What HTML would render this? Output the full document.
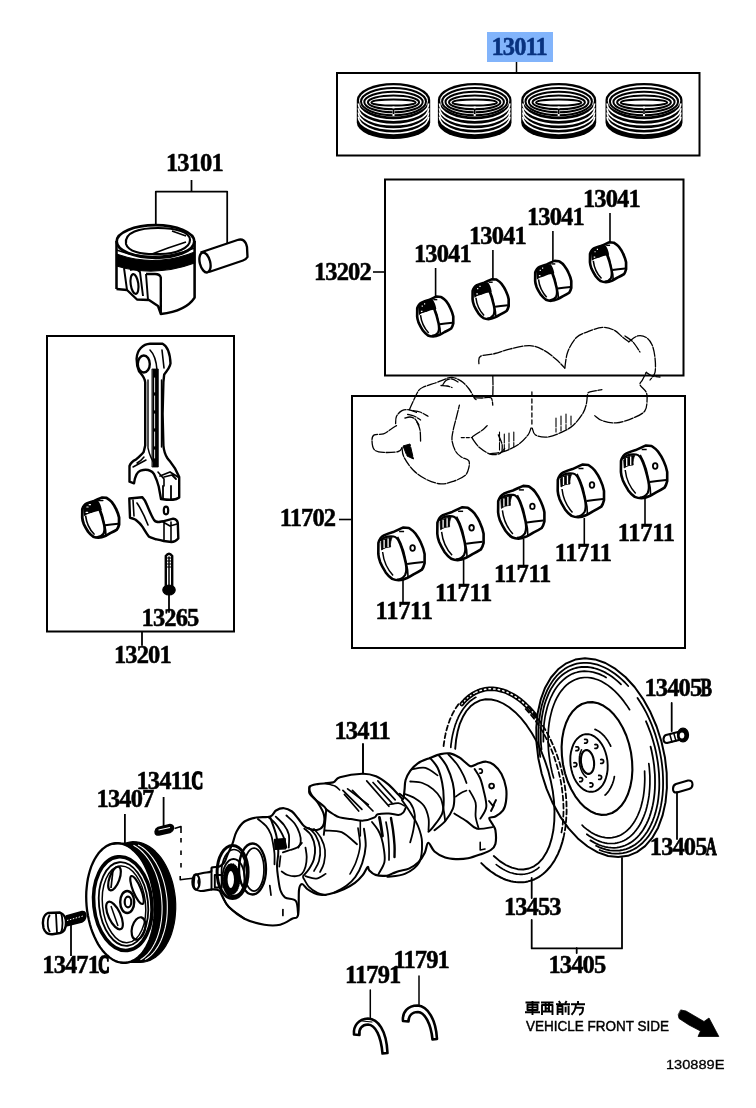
<!DOCTYPE html>
<html><head><meta charset="utf-8"><style>
html,body{margin:0;padding:0;background:#fff;overflow:hidden;width:756px;height:1108px;}
svg{display:block;will-change:transform;}
text{font-family:"Liberation Serif",serif;font-weight:bold;}
.sans{font-family:"Liberation Sans",sans-serif;}
</style></head><body>
<svg width="756" height="1108" viewBox="0 0 756 1108">
<rect width="756" height="1108" fill="#fff"/>

<g fill="none" stroke="#000" stroke-width="2">
<rect x="337" y="73" width="362.5" height="82.5" />
<rect x="385" y="179.5" width="298.5" height="196" />
<rect x="352" y="396" width="333" height="252" />
<rect x="47" y="336" width="187" height="295.5" />
</g>
<rect x="487" y="32" width="66" height="30" fill="#82b4fb"/>
<text x="491.5" y="55.0" font-size="24.5" letter-spacing="-0.9" fill="#08327f" stroke="#08327f" stroke-width="0.5">13011</text>
<text x="166.0" y="171.2" font-size="24.5" letter-spacing="-0.9" fill="#000" stroke="#000" stroke-width="0.5">13101</text>
<text x="314.0" y="279.6" font-size="24.5" letter-spacing="-0.9" fill="#000" stroke="#000" stroke-width="0.5">13202</text>
<text x="414.0" y="261.6" font-size="24.5" letter-spacing="-0.9" fill="#000" stroke="#000" stroke-width="0.5">13041</text>
<text x="469.0" y="243.6" font-size="24.5" letter-spacing="-0.9" fill="#000" stroke="#000" stroke-width="0.5">13041</text>
<text x="527.0" y="225.2" font-size="24.5" letter-spacing="-0.9" fill="#000" stroke="#000" stroke-width="0.5">13041</text>
<text x="583.0" y="207.1" font-size="24.5" letter-spacing="-0.9" fill="#000" stroke="#000" stroke-width="0.5">13041</text>
<text x="279.7" y="525.8" font-size="24.5" letter-spacing="-0.9" fill="#000" stroke="#000" stroke-width="0.5">11702</text>
<text x="375.6" y="618.8" font-size="24.5" letter-spacing="-0.3" fill="#000" stroke="#000" stroke-width="0.5">11711</text>
<text x="434.9" y="601.0" font-size="24.5" letter-spacing="-0.3" fill="#000" stroke="#000" stroke-width="0.5">11711</text>
<text x="494.0" y="582.0" font-size="24.5" letter-spacing="-0.3" fill="#000" stroke="#000" stroke-width="0.5">11711</text>
<text x="554.7" y="560.8" font-size="24.5" letter-spacing="-0.3" fill="#000" stroke="#000" stroke-width="0.5">11711</text>
<text x="617.7" y="540.9" font-size="24.5" letter-spacing="-0.3" fill="#000" stroke="#000" stroke-width="0.5">11711</text>
<text x="141.6" y="626.2" font-size="24.5" letter-spacing="-0.9" fill="#000" stroke="#000" stroke-width="0.5">13265</text>
<text x="114.0" y="662.6" font-size="24.5" letter-spacing="-0.9" fill="#000" stroke="#000" stroke-width="0.5">13201</text>
<text x="334.5" y="738.6" font-size="24.5" letter-spacing="-0.9" fill="#000" stroke="#000" stroke-width="0.5">13411</text>
<text x="136.5" y="789.2" font-size="24.5" letter-spacing="-0.9" fill="#000" stroke="#000" stroke-width="0.5">13411</text>
<text x="96.6" y="807.4" font-size="24.5" letter-spacing="-0.9" fill="#000" stroke="#000" stroke-width="0.5">13407</text>
<text x="42.3" y="973.3" font-size="24.5" letter-spacing="-0.9" fill="#000" stroke="#000" stroke-width="0.5">13471</text>
<text x="644.5" y="696.0" font-size="24.5" letter-spacing="-0.9" fill="#000" stroke="#000" stroke-width="0.5">13405</text>
<text x="649.8" y="854.5" font-size="24.5" letter-spacing="-0.9" fill="#000" stroke="#000" stroke-width="0.5">13405</text>
<text x="503.9" y="914.6" font-size="24.5" letter-spacing="-0.9" fill="#000" stroke="#000" stroke-width="0.5">13453</text>
<text x="548.5" y="973.4" font-size="24.5" letter-spacing="-0.9" fill="#000" stroke="#000" stroke-width="0.5">13405</text>
<text x="345.0" y="982.6" font-size="24.5" letter-spacing="-0.9" fill="#000" stroke="#000" stroke-width="0.5">11791</text>
<text x="393.5" y="968.3" font-size="24.5" letter-spacing="-0.9" fill="#000" stroke="#000" stroke-width="0.5">11791</text>
<text transform="translate(191.5,789.2) scale(0.66,1)" x="0" y="0" font-size="24.5" stroke="#000" stroke-width="1.8">C</text>
<text transform="translate(98.3,973.3) scale(0.64,1)" x="0" y="0" font-size="24.5" stroke="#000" stroke-width="1.8">C</text>
<text transform="translate(700.5,696.0) scale(0.7,1)" x="0" y="0" font-size="24.5" stroke="#000" stroke-width="1.0">B</text>
<text transform="translate(705.8,854.5) scale(0.62,1)" x="0" y="0" font-size="24.5" stroke="#000" stroke-width="1.0">A</text>
<text class="sans" x="526" y="1030.6" font-size="14.6" style="font-weight:normal" stroke="#000" stroke-width="0.45" textLength="143" lengthAdjust="spacingAndGlyphs">VEHICLE FRONT SIDE</text>
<text class="sans" x="666" y="1069.4" font-size="13.4" style="font-weight:normal" stroke="#000" stroke-width="0.3" textLength="58.5" lengthAdjust="spacingAndGlyphs">130889E</text>
<g fill="none" stroke="#000" stroke-linejoin="round">
<path d="M191.5,180 V191.5 M155.8,225 V191.5 H227.2 V243" stroke-width="1.75"/>
<ellipse cx="155.5" cy="241.5" rx="38.8" ry="16.3" stroke-width="2.75"/>
<path d="M126,244 C124,232 140,228 158,228 C176,228 190,232 190,240 C190,248 176,254 160,254 C140,255 128,251 126,244 Z" stroke-width="2.15"/>
<path d="M172,231 L186,236 M152,254 L168,248 L186,242" stroke-width="1.65"/>
<path d="M116.5,254 Q155,268 194.6,252 L194.6,263 Q155,277.5 116.5,266 Z" fill="#000" stroke-width="1.15"/>
<path d="M116.5,250 Q155,264 194.6,248" stroke-width="1.55"/>
<path d="M116.5,241 V289 M194.6,241 V297.6 Q186,311 160.8,314" stroke-width="2.55"/>
<path d="M116.5,289 L127,290 L137,299.5 L149,300 L158,306 L160.8,314 V277.5 Q160,274 155,274 L146,274" stroke-width="2.35"/>
<path d="M124,268 L127,290 M130,270 Q136,268 140,272 L143,296 M146,274 L148,300" stroke-width="1.95"/>
<ellipse cx="134.5" cy="284" rx="3.8" ry="10" transform="rotate(-8 134.5 284)" stroke-width="2.15"/>
<path d="M200.5,252.5 L237.5,240 Q245,237.5 247,247 L247.5,257 Q246,259.5 243,260.5 L209,272" stroke-width="2.35"/>
<ellipse cx="205" cy="262.5" rx="5.2" ry="10.2" transform="rotate(-14 205 262.5)" stroke-width="2.35"/>
</g>
<g fill="none" stroke="#000" stroke-linejoin="round" stroke-linecap="round">
<path d="M136.6,358.7 C137,350 143,344 150,343.7 L162.6,343.7 C167,346 170,352 170.5,363.4 C170,367 167,371 164.2,374.4 L163.4,382 L162.6,414 L163.4,445.5 C164,452 166,456 167.3,458 C171,463 175,466 179.2,477 L179.2,497.5 C176,500 172,500.5 161,499 L158.7,486.5 C157,480 155,476 154,474 C151,470 146,469 140.5,470.7 C137,472 135,476 134,483.3 L129.5,481.7 L129.5,466 C131,462 133,461 135.8,459.7 C140,456 143,453 143.7,451.8 L145.2,445.5 L145.2,382.3 C145,378 143,376 139,371.3 C137,367 136.6,362 136.6,358.7 Z" stroke-width="2.40"/>
<ellipse cx="143.8" cy="364" rx="6" ry="8.5" stroke-width="2.40"/>
<path d="M150,350 Q156,356 157,370 M162,350 L164,368" stroke-width="1.60"/>
<path d="M152.3,369 L158.3,369 L158.3,467 L152.3,467 Z" fill="#000" stroke-width="0.8"/>
<path d="M154.6,378 V458" stroke="#fff" stroke-width="0.9" stroke-dasharray="14,4"/>
<path d="M148,380 V448 Q150,458 156,466 M161.5,380 V447" stroke-width="1.40"/>
<path d="M133,467 L146,460 M137,463 Q141,461 144,457" stroke-width="1.50"/>
<path d="M160,476 L170,472 L178,477 M164,477 L172,475 L176,479 M163,486 V498 M171,486 V499" stroke-width="1.80"/>
<path d="M158,472 L164,479 L164,486" stroke-width="1.60"/>
<g transform="translate(82.1,497.1) scale(0.795,0.762)">
<path d="M0.3,15.8 C1.5,12 3.5,9.5 5.8,8.4 C9,7 12,6 15,5.1 C19,3.5 22,1.5 25.2,0.5 L30.8,1 C33,2.5 35.5,4 37.3,6.5 C39.5,9.5 41.5,12.5 42.8,15.8 C44.5,19.5 45.8,23 46.5,26.9 L46.5,36.1 C45.8,39 45,41 43.8,42.6 C41,44.5 38,46 35.4,47.3 C33,48.8 31,50 28.9,51 C26,52.3 23,53.1 20.6,53.3 C18,53.2 16,52.7 14.1,51.9 C11.5,50 9.5,48 7.6,45.4 C5.5,42 3.5,38.5 2.1,35.2 C1,32 0.3,29.5 0.2,26.9 Z" stroke-width="3.51"/>
<path d="M2.5,14 C5,10 10,9 15.5,9.5 C19,10 20.5,13 22,17 C24,22 26,29 27.5,36 C28.5,41 28.5,45 27,48 C25,51 22,52.5 19,52.5" stroke-width="2.97"/>
<path d="M19.5,9.8 C22,14 24,19 25.5,24 C27,30 28.5,37 29.5,43 L30,51" stroke-width="2.16"/>
<path d="M3,15 C5,12 9,10.5 14,10.5 C13,13 12,16 12.5,20 C9,20 6,21 3.5,23 Z" fill="#000" stroke-width="1.08"/>
<path d="M6,13 L6,21 M10,11.5 L10,20" stroke="#fff" stroke-width="1.76"/>
<path d="M4.5,25 C5.5,34 9,42 15,48.5" stroke-width="2.03"/>
<path d="M1.5,15 C3,10 8,7 14,5.5 L20,4.5 C22.5,8 24,12 24.8,17 C20,18 15,19.5 11,21 C7,22 4.5,23.5 2.5,25 Z" fill="#000" stroke="none"/>
<path d="M6,13 l1.5,0 M9,10 l1.5,0 M5,20 l2,0" stroke="#fff" stroke-width="1.6"/>
<path d="M29,37 C35,36 40,35.5 45.5,35" stroke-width="2.70"/>
<path d="M21,4.5 H26" stroke-width="2.03"/>
</g>
<path d="M129.3,498.5 L142.2,497.2 C144,499 146,502 147,505 C149,510 151,515 154,520 C156,523 159,522 162.9,521.3 L173.2,518.7 C175.5,519 177.5,521 177.8,523 L178.3,538.5 C176,541 173,542 171.5,542 L163.7,541 C160,540 157,539.5 156,539.3 C152,538 150,537 149,536.7 C146,533 144,529 142.2,526.4 C140,523 137,521 135.3,519.5 C133,518.5 131,518 130,517.8 Z" stroke-width="2.40"/>
<path d="M133,500 L134,516 M137,503 Q143,512 148,525 M164,523 V540 M171,522 V541 M163,522 L170,526 L177,524" stroke-width="1.60"/>
<ellipse cx="166" cy="510.5" rx="2.2" ry="3.8" stroke-width="2.20"/>
<path d="M165.8,556 Q169,551.5 172.2,556 V587 H165.8 Z" stroke-width="2.40"/>
<path d="M169,557 V585" stroke-width="1.50"/>
<path d="M166,558 H172 M166,561 H172 M166,564 H172 M166,567 H172" stroke-width="1.10"/>
<ellipse cx="169" cy="590" rx="6.2" ry="5" fill="#000" stroke-width="1.20"/>
<path d="M169,594 V612" stroke-width="1.80"/>
<path d="M142,632 V645" stroke-width="1.80"/>
</g>
<g fill="none" stroke="#000" stroke-linejoin="round">
<g transform="translate(417,296.2) scale(0.78,0.757)">
<path d="M0.3,15.8 C1.5,12 3.5,9.5 5.8,8.4 C9,7 12,6 15,5.1 C19,3.5 22,1.5 25.2,0.5 L30.8,1 C33,2.5 35.5,4 37.3,6.5 C39.5,9.5 41.5,12.5 42.8,15.8 C44.5,19.5 45.8,23 46.5,26.9 L46.5,36.1 C45.8,39 45,41 43.8,42.6 C41,44.5 38,46 35.4,47.3 C33,48.8 31,50 28.9,51 C26,52.3 23,53.1 20.6,53.3 C18,53.2 16,52.7 14.1,51.9 C11.5,50 9.5,48 7.6,45.4 C5.5,42 3.5,38.5 2.1,35.2 C1,32 0.3,29.5 0.2,26.9 Z" stroke-width="3.38"/>
<path d="M2.5,14 C5,10 10,9 15.5,9.5 C19,10 20.5,13 22,17 C24,22 26,29 27.5,36 C28.5,41 28.5,45 27,48 C25,51 22,52.5 19,52.5" stroke-width="2.86"/>
<path d="M19.5,9.8 C22,14 24,19 25.5,24 C27,30 28.5,37 29.5,43 L30,51" stroke-width="2.08"/>
<path d="M3,15 C5,12 9,10.5 14,10.5 C13,13 12,16 12.5,20 C9,20 6,21 3.5,23 Z" fill="#000" stroke-width="1.04"/>
<path d="M6,13 L6,21 M10,11.5 L10,20" stroke="#fff" stroke-width="1.69"/>
<path d="M4.5,25 C5.5,34 9,42 15,48.5" stroke-width="1.95"/>
<path d="M1.5,15 C3,10 8,7 14,5.5 L20,4.5 C22.5,8 24,12 24.8,17 C20,18 15,19.5 11,21 C7,22 4.5,23.5 2.5,25 Z" fill="#000" stroke="none"/>
<path d="M6,13 l1.5,0 M9,10 l1.5,0 M5,20 l2,0" stroke="#fff" stroke-width="1.6"/>
<path d="M29,37 C35,36 40,35.5 45.5,35" stroke-width="2.60"/>
<path d="M21,4.5 H26" stroke-width="1.95"/>
</g>
<g transform="translate(472.4,278.8) scale(0.78,0.757)">
<path d="M0.3,15.8 C1.5,12 3.5,9.5 5.8,8.4 C9,7 12,6 15,5.1 C19,3.5 22,1.5 25.2,0.5 L30.8,1 C33,2.5 35.5,4 37.3,6.5 C39.5,9.5 41.5,12.5 42.8,15.8 C44.5,19.5 45.8,23 46.5,26.9 L46.5,36.1 C45.8,39 45,41 43.8,42.6 C41,44.5 38,46 35.4,47.3 C33,48.8 31,50 28.9,51 C26,52.3 23,53.1 20.6,53.3 C18,53.2 16,52.7 14.1,51.9 C11.5,50 9.5,48 7.6,45.4 C5.5,42 3.5,38.5 2.1,35.2 C1,32 0.3,29.5 0.2,26.9 Z" stroke-width="3.38"/>
<path d="M2.5,14 C5,10 10,9 15.5,9.5 C19,10 20.5,13 22,17 C24,22 26,29 27.5,36 C28.5,41 28.5,45 27,48 C25,51 22,52.5 19,52.5" stroke-width="2.86"/>
<path d="M19.5,9.8 C22,14 24,19 25.5,24 C27,30 28.5,37 29.5,43 L30,51" stroke-width="2.08"/>
<path d="M3,15 C5,12 9,10.5 14,10.5 C13,13 12,16 12.5,20 C9,20 6,21 3.5,23 Z" fill="#000" stroke-width="1.04"/>
<path d="M6,13 L6,21 M10,11.5 L10,20" stroke="#fff" stroke-width="1.69"/>
<path d="M4.5,25 C5.5,34 9,42 15,48.5" stroke-width="1.95"/>
<path d="M1.5,15 C3,10 8,7 14,5.5 L20,4.5 C22.5,8 24,12 24.8,17 C20,18 15,19.5 11,21 C7,22 4.5,23.5 2.5,25 Z" fill="#000" stroke="none"/>
<path d="M6,13 l1.5,0 M9,10 l1.5,0 M5,20 l2,0" stroke="#fff" stroke-width="1.6"/>
<path d="M29,37 C35,36 40,35.5 45.5,35" stroke-width="2.60"/>
<path d="M21,4.5 H26" stroke-width="1.95"/>
</g>
<g transform="translate(535,260.5) scale(0.78,0.757)">
<path d="M0.3,15.8 C1.5,12 3.5,9.5 5.8,8.4 C9,7 12,6 15,5.1 C19,3.5 22,1.5 25.2,0.5 L30.8,1 C33,2.5 35.5,4 37.3,6.5 C39.5,9.5 41.5,12.5 42.8,15.8 C44.5,19.5 45.8,23 46.5,26.9 L46.5,36.1 C45.8,39 45,41 43.8,42.6 C41,44.5 38,46 35.4,47.3 C33,48.8 31,50 28.9,51 C26,52.3 23,53.1 20.6,53.3 C18,53.2 16,52.7 14.1,51.9 C11.5,50 9.5,48 7.6,45.4 C5.5,42 3.5,38.5 2.1,35.2 C1,32 0.3,29.5 0.2,26.9 Z" stroke-width="3.38"/>
<path d="M2.5,14 C5,10 10,9 15.5,9.5 C19,10 20.5,13 22,17 C24,22 26,29 27.5,36 C28.5,41 28.5,45 27,48 C25,51 22,52.5 19,52.5" stroke-width="2.86"/>
<path d="M19.5,9.8 C22,14 24,19 25.5,24 C27,30 28.5,37 29.5,43 L30,51" stroke-width="2.08"/>
<path d="M3,15 C5,12 9,10.5 14,10.5 C13,13 12,16 12.5,20 C9,20 6,21 3.5,23 Z" fill="#000" stroke-width="1.04"/>
<path d="M6,13 L6,21 M10,11.5 L10,20" stroke="#fff" stroke-width="1.69"/>
<path d="M4.5,25 C5.5,34 9,42 15,48.5" stroke-width="1.95"/>
<path d="M1.5,15 C3,10 8,7 14,5.5 L20,4.5 C22.5,8 24,12 24.8,17 C20,18 15,19.5 11,21 C7,22 4.5,23.5 2.5,25 Z" fill="#000" stroke="none"/>
<path d="M6,13 l1.5,0 M9,10 l1.5,0 M5,20 l2,0" stroke="#fff" stroke-width="1.6"/>
<path d="M29,37 C35,36 40,35.5 45.5,35" stroke-width="2.60"/>
<path d="M21,4.5 H26" stroke-width="1.95"/>
</g>
<g transform="translate(589.8,241.9) scale(0.78,0.757)">
<path d="M0.3,15.8 C1.5,12 3.5,9.5 5.8,8.4 C9,7 12,6 15,5.1 C19,3.5 22,1.5 25.2,0.5 L30.8,1 C33,2.5 35.5,4 37.3,6.5 C39.5,9.5 41.5,12.5 42.8,15.8 C44.5,19.5 45.8,23 46.5,26.9 L46.5,36.1 C45.8,39 45,41 43.8,42.6 C41,44.5 38,46 35.4,47.3 C33,48.8 31,50 28.9,51 C26,52.3 23,53.1 20.6,53.3 C18,53.2 16,52.7 14.1,51.9 C11.5,50 9.5,48 7.6,45.4 C5.5,42 3.5,38.5 2.1,35.2 C1,32 0.3,29.5 0.2,26.9 Z" stroke-width="3.38"/>
<path d="M2.5,14 C5,10 10,9 15.5,9.5 C19,10 20.5,13 22,17 C24,22 26,29 27.5,36 C28.5,41 28.5,45 27,48 C25,51 22,52.5 19,52.5" stroke-width="2.86"/>
<path d="M19.5,9.8 C22,14 24,19 25.5,24 C27,30 28.5,37 29.5,43 L30,51" stroke-width="2.08"/>
<path d="M3,15 C5,12 9,10.5 14,10.5 C13,13 12,16 12.5,20 C9,20 6,21 3.5,23 Z" fill="#000" stroke-width="1.04"/>
<path d="M6,13 L6,21 M10,11.5 L10,20" stroke="#fff" stroke-width="1.69"/>
<path d="M4.5,25 C5.5,34 9,42 15,48.5" stroke-width="1.95"/>
<path d="M1.5,15 C3,10 8,7 14,5.5 L20,4.5 C22.5,8 24,12 24.8,17 C20,18 15,19.5 11,21 C7,22 4.5,23.5 2.5,25 Z" fill="#000" stroke="none"/>
<path d="M6,13 l1.5,0 M9,10 l1.5,0 M5,20 l2,0" stroke="#fff" stroke-width="1.6"/>
<path d="M29,37 C35,36 40,35.5 45.5,35" stroke-width="2.60"/>
<path d="M21,4.5 H26" stroke-width="1.95"/>
</g>
<path d="M435.6,268 V297 M492.9,250 V279.5 M552.9,231 V261.5 M610,213 V242.5" stroke-width="1.6"/>
<path d="M373,272 H385" stroke-width="1.6"/>
</g>
<g fill="none" stroke="#000" stroke-linejoin="round">
<g transform="translate(378.1,527) scale(1.0,1.0)">
<path d="M0.3,15.8 C1.5,12 3.5,9.5 5.8,8.4 C9,7 12,6 15,5.1 C19,3.5 22,1.5 25.2,0.5 L30.8,1 C33,2.5 35.5,4 37.3,6.5 C39.5,9.5 41.5,12.5 42.8,15.8 C44.5,19.5 45.8,23 46.5,26.9 L46.5,36.1 C45.8,39 45,41 43.8,42.6 C41,44.5 38,46 35.4,47.3 C33,48.8 31,50 28.9,51 C26,52.3 23,53.1 20.6,53.3 C18,53.2 16,52.7 14.1,51.9 C11.5,50 9.5,48 7.6,45.4 C5.5,42 3.5,38.5 2.1,35.2 C1,32 0.3,29.5 0.2,26.9 Z" stroke-width="2.60"/>
<path d="M2.5,14 C5,10 10,9 15.5,9.5 C19,10 20.5,13 22,17 C24,22 26,29 27.5,36 C28.5,41 28.5,45 27,48 C25,51 22,52.5 19,52.5" stroke-width="2.20"/>
<path d="M19.5,9.8 C22,14 24,19 25.5,24 C27,30 28.5,37 29.5,43 L30,51" stroke-width="1.60"/>
<path d="M3,15 C5,12 9,10.5 14,10.5 C13,13 12,16 12.5,20 C9,20 6,21 3.5,23 Z" fill="#000" stroke-width="0.80"/>
<path d="M6,13 L6,21 M10,11.5 L10,20" stroke="#fff" stroke-width="1.30"/>
<path d="M4.5,25 C5.5,34 9,42 15,48.5" stroke-width="1.50"/>
<path d="M29,37 C35,36 40,35.5 45.5,35" stroke-width="2.00"/>
<path d="M21,4.5 H26" stroke-width="1.50"/>
<ellipse cx="34.5" cy="21" rx="2.3" ry="2.8" stroke-width="1.80"/>
</g>
<g transform="translate(437.1,506.8) scale(1.0,1.0)">
<path d="M0.3,15.8 C1.5,12 3.5,9.5 5.8,8.4 C9,7 12,6 15,5.1 C19,3.5 22,1.5 25.2,0.5 L30.8,1 C33,2.5 35.5,4 37.3,6.5 C39.5,9.5 41.5,12.5 42.8,15.8 C44.5,19.5 45.8,23 46.5,26.9 L46.5,36.1 C45.8,39 45,41 43.8,42.6 C41,44.5 38,46 35.4,47.3 C33,48.8 31,50 28.9,51 C26,52.3 23,53.1 20.6,53.3 C18,53.2 16,52.7 14.1,51.9 C11.5,50 9.5,48 7.6,45.4 C5.5,42 3.5,38.5 2.1,35.2 C1,32 0.3,29.5 0.2,26.9 Z" stroke-width="2.60"/>
<path d="M2.5,14 C5,10 10,9 15.5,9.5 C19,10 20.5,13 22,17 C24,22 26,29 27.5,36 C28.5,41 28.5,45 27,48 C25,51 22,52.5 19,52.5" stroke-width="2.20"/>
<path d="M19.5,9.8 C22,14 24,19 25.5,24 C27,30 28.5,37 29.5,43 L30,51" stroke-width="1.60"/>
<path d="M3,15 C5,12 9,10.5 14,10.5 C13,13 12,16 12.5,20 C9,20 6,21 3.5,23 Z" fill="#000" stroke-width="0.80"/>
<path d="M6,13 L6,21 M10,11.5 L10,20" stroke="#fff" stroke-width="1.30"/>
<path d="M4.5,25 C5.5,34 9,42 15,48.5" stroke-width="1.50"/>
<path d="M29,37 C35,36 40,35.5 45.5,35" stroke-width="2.00"/>
<path d="M21,4.5 H26" stroke-width="1.50"/>
<ellipse cx="34.5" cy="21" rx="2.3" ry="2.8" stroke-width="1.80"/>
</g>
<g transform="translate(497.9,485.4) scale(1.0,1.0)">
<path d="M0.3,15.8 C1.5,12 3.5,9.5 5.8,8.4 C9,7 12,6 15,5.1 C19,3.5 22,1.5 25.2,0.5 L30.8,1 C33,2.5 35.5,4 37.3,6.5 C39.5,9.5 41.5,12.5 42.8,15.8 C44.5,19.5 45.8,23 46.5,26.9 L46.5,36.1 C45.8,39 45,41 43.8,42.6 C41,44.5 38,46 35.4,47.3 C33,48.8 31,50 28.9,51 C26,52.3 23,53.1 20.6,53.3 C18,53.2 16,52.7 14.1,51.9 C11.5,50 9.5,48 7.6,45.4 C5.5,42 3.5,38.5 2.1,35.2 C1,32 0.3,29.5 0.2,26.9 Z" stroke-width="2.60"/>
<path d="M2.5,14 C5,10 10,9 15.5,9.5 C19,10 20.5,13 22,17 C24,22 26,29 27.5,36 C28.5,41 28.5,45 27,48 C25,51 22,52.5 19,52.5" stroke-width="2.20"/>
<path d="M19.5,9.8 C22,14 24,19 25.5,24 C27,30 28.5,37 29.5,43 L30,51" stroke-width="1.60"/>
<path d="M3,15 C5,12 9,10.5 14,10.5 C13,13 12,16 12.5,20 C9,20 6,21 3.5,23 Z" fill="#000" stroke-width="0.80"/>
<path d="M6,13 L6,21 M10,11.5 L10,20" stroke="#fff" stroke-width="1.30"/>
<path d="M4.5,25 C5.5,34 9,42 15,48.5" stroke-width="1.50"/>
<path d="M29,37 C35,36 40,35.5 45.5,35" stroke-width="2.00"/>
<path d="M21,4.5 H26" stroke-width="1.50"/>
<ellipse cx="34.5" cy="21" rx="2.3" ry="2.8" stroke-width="1.80"/>
</g>
<g transform="translate(557.5,464) scale(1.0,1.0)">
<path d="M0.3,15.8 C1.5,12 3.5,9.5 5.8,8.4 C9,7 12,6 15,5.1 C19,3.5 22,1.5 25.2,0.5 L30.8,1 C33,2.5 35.5,4 37.3,6.5 C39.5,9.5 41.5,12.5 42.8,15.8 C44.5,19.5 45.8,23 46.5,26.9 L46.5,36.1 C45.8,39 45,41 43.8,42.6 C41,44.5 38,46 35.4,47.3 C33,48.8 31,50 28.9,51 C26,52.3 23,53.1 20.6,53.3 C18,53.2 16,52.7 14.1,51.9 C11.5,50 9.5,48 7.6,45.4 C5.5,42 3.5,38.5 2.1,35.2 C1,32 0.3,29.5 0.2,26.9 Z" stroke-width="2.60"/>
<path d="M2.5,14 C5,10 10,9 15.5,9.5 C19,10 20.5,13 22,17 C24,22 26,29 27.5,36 C28.5,41 28.5,45 27,48 C25,51 22,52.5 19,52.5" stroke-width="2.20"/>
<path d="M19.5,9.8 C22,14 24,19 25.5,24 C27,30 28.5,37 29.5,43 L30,51" stroke-width="1.60"/>
<path d="M3,15 C5,12 9,10.5 14,10.5 C13,13 12,16 12.5,20 C9,20 6,21 3.5,23 Z" fill="#000" stroke-width="0.80"/>
<path d="M6,13 L6,21 M10,11.5 L10,20" stroke="#fff" stroke-width="1.30"/>
<path d="M4.5,25 C5.5,34 9,42 15,48.5" stroke-width="1.50"/>
<path d="M29,37 C35,36 40,35.5 45.5,35" stroke-width="2.00"/>
<path d="M21,4.5 H26" stroke-width="1.50"/>
<ellipse cx="34.5" cy="21" rx="2.3" ry="2.8" stroke-width="1.80"/>
</g>
<g transform="translate(620.7,445) scale(1.0,1.0)">
<path d="M0.3,15.8 C1.5,12 3.5,9.5 5.8,8.4 C9,7 12,6 15,5.1 C19,3.5 22,1.5 25.2,0.5 L30.8,1 C33,2.5 35.5,4 37.3,6.5 C39.5,9.5 41.5,12.5 42.8,15.8 C44.5,19.5 45.8,23 46.5,26.9 L46.5,36.1 C45.8,39 45,41 43.8,42.6 C41,44.5 38,46 35.4,47.3 C33,48.8 31,50 28.9,51 C26,52.3 23,53.1 20.6,53.3 C18,53.2 16,52.7 14.1,51.9 C11.5,50 9.5,48 7.6,45.4 C5.5,42 3.5,38.5 2.1,35.2 C1,32 0.3,29.5 0.2,26.9 Z" stroke-width="2.60"/>
<path d="M2.5,14 C5,10 10,9 15.5,9.5 C19,10 20.5,13 22,17 C24,22 26,29 27.5,36 C28.5,41 28.5,45 27,48 C25,51 22,52.5 19,52.5" stroke-width="2.20"/>
<path d="M19.5,9.8 C22,14 24,19 25.5,24 C27,30 28.5,37 29.5,43 L30,51" stroke-width="1.60"/>
<path d="M3,15 C5,12 9,10.5 14,10.5 C13,13 12,16 12.5,20 C9,20 6,21 3.5,23 Z" fill="#000" stroke-width="0.80"/>
<path d="M6,13 L6,21 M10,11.5 L10,20" stroke="#fff" stroke-width="1.30"/>
<path d="M4.5,25 C5.5,34 9,42 15,48.5" stroke-width="1.50"/>
<path d="M29,37 C35,36 40,35.5 45.5,35" stroke-width="2.00"/>
<path d="M21,4.5 H26" stroke-width="1.50"/>
<ellipse cx="34.5" cy="21" rx="2.3" ry="2.8" stroke-width="1.80"/>
</g>
<path d="M403,580 V603 M463.6,560 V584 M523.6,539 V565.5 M584.3,518 V545 M645,498 V525" stroke-width="1.6"/>
<path d="M339,519.5 H352" stroke-width="1.6"/>
</g>
<g fill="none" stroke="#000" stroke-linejoin="round">
<path d="M126.4,842.8 L129.7,842.0 L132.9,841.7 L136.2,841.8 L139.5,842.3 L142.8,843.3 L146.1,844.7 L149.3,846.5 L152.4,848.7 L155.3,851.3 L158.2,854.3 L160.9,857.6 L163.4,861.3 L165.7,865.3 L167.8,869.5 L169.7,874.0 L171.4,878.6 L172.8,883.5 L173.9,888.4 L174.8,893.5 L175.4,898.6 L175.7,903.8 L175.7,909.0 L175.4,914.0 L174.9,919.1 L174.1,923.9 L173.0,928.7 L171.7,933.2 L170.1,937.5 L168.2,941.5 L166.1,945.3 L163.9,948.7 L161.4,951.8 L158.7,954.5 L155.9,956.9 L152.9,958.8 L149.9,960.4 L146.7,961.5 L143.5,962.1 L140.2,962.4 L136.9,962.2 L119.8,962.4 L122.8,962.8 L125.7,962.8 L128.7,962.3 L131.5,961.3 L134.3,960.0 L137.0,958.2 L139.6,955.9 L142.0,953.3 L144.2,950.3 L146.3,946.9 L148.1,943.2 L149.8,939.2 L151.2,934.9 L152.4,930.3 L153.4,925.6 L154.1,920.7 L154.6,915.6 L154.8,910.5 L154.7,905.3 L154.4,900.0 L153.8,894.8 L152.9,889.7 L151.9,884.7 L150.5,879.8 L149.0,875.1 L147.2,870.5 L145.2,866.3 L143.1,862.3 L140.8,858.6 L138.3,855.3 L135.6,852.3 L132.9,849.8 L130.1,847.6 L127.2,845.8 L124.2,844.5 L121.2,843.6 L118.2,843.2 L115.3,843.2 L112.3,843.7 L109.5,844.7 Z" fill="#000" stroke-width="1.2"/>
<path d="M133.5,845.3 L135.7,846.5 L137.8,847.9 L140.0,849.6 L142.0,851.5 L144.0,853.6 L146.0,855.9 L147.8,858.3 L149.6,861.0 L151.3,863.8 L152.8,866.8 L154.3,869.9 L155.7,873.1 L156.9,876.5 L158.0,880.0 L159.0,883.5 L159.8,887.2 L160.6,890.9 L161.2,894.6 L161.6,898.4 L161.9,902.2 L162.1,906.0 L162.1,909.7 L162.0,913.5 L161.7,917.2 L161.3,920.9 L160.7,924.4 L160.1,927.9 L159.2,931.3 L158.3,934.6 L157.2,937.8 L156.0,940.8 L154.7,943.6 L153.2,946.3 L151.7,948.8 L150.0,951.2 L148.3,953.3 L146.5,955.2 L144.5,957.0 L142.6,958.5 L140.5,959.8" stroke="#fff" stroke-width="1.1"/>
<path d="M138.0,844.9 L140.2,846.1 L142.5,847.5 L144.7,849.2 L146.8,851.1 L148.8,853.2 L150.8,855.5 L152.7,857.9 L154.5,860.6 L156.3,863.4 L157.9,866.4 L159.4,869.5 L160.8,872.7 L162.0,876.1 L163.2,879.6 L164.2,883.1 L165.1,886.8 L165.8,890.5 L166.4,894.2 L166.9,898.0 L167.2,901.8 L167.3,905.6 L167.3,909.4 L167.2,913.2 L166.9,916.9 L166.5,920.6 L165.9,924.2 L165.2,927.7 L164.3,931.1 L163.3,934.3 L162.2,937.5 L161.0,940.5 L159.6,943.4 L158.1,946.1 L156.5,948.6 L154.8,951.0 L153.0,953.1 L151.1,955.1 L149.1,956.8 L147.1,958.3 L144.9,959.6" stroke="#fff" stroke-width="1.1"/>
<path d="M154.4,900.0 L154.7,904.7 L154.8,909.4 L154.7,914.1 L154.3,918.7 L153.8,923.1 L153.1,927.5 L152.1,931.7 L151.0,935.7 L149.7,939.6 L148.1,943.2 L146.5,946.5 L144.6,949.6 L142.7,952.4 L140.5,954.9 L138.3,957.1 L135.9,958.9 L133.5,960.4 L131.0,961.6 L128.4,962.4 L125.7,962.8 L123.1,962.8 L120.4,962.5 L117.7,961.8 L115.0,960.8 L112.4,959.4 L109.8,957.6 L107.3,955.5 L104.8,953.1 L102.5,950.4 L100.2,947.4 L98.1,944.1 L96.2,940.5 L94.4,936.8 L92.7,932.8 L91.2,928.6 L89.9,924.3 L88.8,919.8 L87.9,915.3 L87.1,910.6 L86.6,906.0 L86.3,901.3 L86.2,896.6 L86.3,891.9 L86.7,887.3 L87.2,882.9 L87.9,878.5 L88.9,874.3 L90.0,870.3 L91.3,866.4 L92.9,862.8 L94.5,859.5 L96.4,856.4 L98.3,853.6 L100.5,851.1 L102.7,848.9 L105.1,847.1 L107.5,845.6 L110.0,844.4 L112.6,843.6 L115.3,843.2 L117.9,843.2 L120.6,843.5 L123.3,844.2 L126.0,845.2 L128.6,846.6 L131.2,848.4 L133.7,850.5 L136.2,852.9 L138.5,855.6 L140.8,858.6 L142.9,861.9 L144.8,865.5 L146.6,869.2 L148.3,873.2 L149.8,877.4 L151.1,881.7 L152.2,886.2 L153.1,890.7 L153.9,895.4 L154.4,900.0" stroke-width="2.3"/>
<ellipse cx="122.8" cy="903.6" rx="29" ry="47" transform="rotate(-6 122.8 903.6)" stroke-width="3.6"/>
<ellipse cx="123.5" cy="904" rx="24.5" ry="42" transform="rotate(-6 123.5 904)" stroke-width="1.8"/>
<ellipse cx="124" cy="904.3" rx="21.5" ry="38.5" transform="rotate(-6 124 904.3)" stroke-width="1.5"/>
<ellipse cx="127.2" cy="902" rx="7" ry="11" stroke-width="2.4"/>
<ellipse cx="128" cy="902" rx="3.3" ry="5.3" stroke-width="2.2"/>
<ellipse cx="114.5" cy="878.5" rx="5" ry="12.5" transform="rotate(20 114.5 878.5)" stroke-width="2.2"/>
<path d="M113,870 L111,888" stroke-width="1.7"/>
<ellipse cx="137" cy="890" rx="4" ry="15" transform="rotate(-22 137 890)" stroke-width="2.2"/>
<ellipse cx="114.5" cy="915.5" rx="6" ry="15" transform="rotate(-25 114.5 915.5)" stroke-width="2.2"/>
<path d="M111,906 L118,926" stroke-width="1.5"/>
<ellipse cx="138.5" cy="928.5" rx="6.5" ry="11.5" transform="rotate(15 138.5 928.5)" stroke-width="2.2"/>
<path d="M124.9,814 V843" stroke-width="1.8"/>
</g>
<g fill="none" stroke="#000" stroke-linejoin="round">
<path d="M163.6,797 V826" stroke-width="1.80"/>
<path d="M158,827.5 L170,824.5 Q174,825 173.5,828.5 Q173,831.5 170,832.5 L159,835 Q155,835.5 155,831.5 Q155.5,828.5 158,827.5 Z" fill="#000" stroke-width="1.40"/>
<path d="M158.5,830 L170,827.5" stroke="#fff" stroke-width="1.10"/>
<path d="M174.5,828.5 L181,826.5 V833 M180.2,876 V879.8 L186,879 L193,878.3" stroke-width="1.6"/>
<path d="M181,838 V869" stroke-width="1.6" stroke-dasharray="4.5,8"/>
<path d="M71,923 V956" stroke-width="1.80"/>
<path d="M48,913 C43,915 42,922 43.5,928 C45,933 49,935 54,934 L60,933 C64,932 66,928 66,923 C66,918 64,914 60,912.5 Z" stroke-width="2.40"/>
<path d="M50,915 C47,918 47,928 50,932 M56,914 L57,933 M61,913 C63,918 63,928 61,933" stroke-width="1.80"/>
<path d="M66,916 L82,911.5 C86,911 86.5,915 85.5,918 C84.5,921 83,922 80,922.5 L66,926" fill="#000" stroke-width="1.50"/>
<path d="M67,920.5 L83,916" stroke="#fff" stroke-width="1.00" stroke-dasharray="1.5,1.5"/>
</g>
<g fill="none" stroke="#000" stroke-linejoin="round" stroke-linecap="round">
<path d="M461.8,704.0 L463.2,702.3 L464.7,700.7 L466.2,699.2 L467.8,697.8 L469.3,696.5 L471.0,695.3 L472.6,694.2 L474.3,693.2 L476.1,692.3 L477.9,691.5 L479.7,690.8 L481.5,690.2 L483.4,689.7 L485.2,689.3 L487.2,689.0 L489.1,688.9 L491.0,688.8 L493.0,688.9 L495.0,689.0 L496.9,689.3 L498.9,689.7 L500.9,690.2 L503.0,690.8 L505.0,691.4 L507.0,692.2 L509.0,693.2 L511.0,694.2 L513.0,695.3 L515.0,696.5 L517.0,697.8 L518.9,699.2 L520.9,700.7 L522.8,702.3 L524.7,704.0 L526.6,705.8 L528.5,707.6 L530.3,709.6 L532.1,711.6 L533.9,713.7 L535.7,716.0" stroke-width="4.6" />
<path d="M475.8,692.4 L477.1,691.8 L478.5,691.2 L479.9,690.7 L481.3,690.2 L482.7,689.8 L484.2,689.5 L485.6,689.2 L487.1,689.0 L488.6,688.9 L490.0,688.8 L491.5,688.8 L493.0,688.9 L494.6,689.0 L496.1,689.2 L497.6,689.4 L499.1,689.7 L500.7,690.1 L502.2,690.5 L503.7,691.0 L505.3,691.6 L506.8,692.2 L508.4,692.9 L509.9,693.6 L511.4,694.4 L513.0,695.3 L514.5,696.2 L516.0,697.1 L517.5,698.2 L519.0,699.3 L520.5,700.4 L522.0,701.6 L523.5,702.9 L524.9,704.2 L526.4,705.5 L527.8,707.0 L529.2,708.4 L530.6,710.0 L532.0,711.5 L533.4,713.1 L534.8,714.8" stroke-width="1.5" stroke="#fff" stroke-dasharray="1.4,3.2"/>
<path d="M461.8,704.0 L462.1,703.6 L462.4,703.2 L462.8,702.9 L463.1,702.5 L463.4,702.1 L463.7,701.8 L464.0,701.4 L464.4,701.1 L464.7,700.7 L465.0,700.4 L465.3,700.1 L465.7,699.7 L466.0,699.4 L466.3,699.1 L466.7,698.8 L467.0,698.4 L467.4,698.1 L467.7,697.8 L468.1,697.5 L468.4,697.2 L468.8,697.0 L469.1,696.7 L469.5,696.4 L469.8,696.1 L470.2,695.9 L470.5,695.6 L470.9,695.3 L471.3,695.1 L471.6,694.8 L472.0,694.6 L472.4,694.3 L472.7,694.1 L473.1,693.9 L473.5,693.6 L473.9,693.4 L474.3,693.2 L474.6,693.0 L475.0,692.8 L475.4,692.6 L475.8,692.4" stroke-width="1.2" stroke="#fff" stroke-dasharray="1,3"/>
<path d="M455.2,748.8 L456.1,739.7 L457.7,731.2 L459.9,723.6 L462.9,716.8 L466.4,711.0 L470.5,706.3 L475.2,702.8 L480.2,700.4 L485.6,699.3 L491.3,699.5 L497.2,700.9 L503.2,703.5 L509.2,707.3 L515.2,712.2 L521.0,718.2 L526.6,725.2 L531.8,733.0 L536.7,741.6 L541.1,750.8 L544.9,760.6 L548.2,770.6 L550.8,780.9 L552.8,791.2 L554.0,801.4 L554.5,811.4 L554.3,821.0 L553.4,830.0 L551.7,838.4 L549.4,846.0 L546.4,852.6 L542.8,858.3 L538.6,862.9 L534.0,866.3 L528.9,868.5 L523.4,869.5 L517.7,869.2 L511.8,867.7 L505.8,865.0 L499.8,861.1 L493.8,856.0" stroke-width="1.9" />
<path d="M450.8,747.4 L450.9,745.6 L451.1,743.8 L451.4,742.1 L451.6,740.3 L451.9,738.6 L452.2,736.9 L452.5,735.3 L452.9,733.6 L453.3,732.0 L453.7,730.4 L454.1,728.8 L454.6,727.3 L455.0,725.7 L455.5,724.2 L456.1,722.8 L456.6,721.3 L457.2,719.9 L457.8,718.6 L458.4,717.2 L459.0,715.9 L459.7,714.6 L460.4,713.4 L461.1,712.2 L461.8,711.0 L462.5,709.9 L463.3,708.8 L464.1,707.7 L464.9,706.7 L465.7,705.7 L466.5,704.7 L467.4,703.8 L468.3,702.9 L469.2,702.0 L470.1,701.2 L471.0,700.5 L472.0,699.8 L472.9,699.1 L473.9,698.4 L474.9,697.8 L475.9,697.3" stroke-width="1.7" />
<path d="M443.6,746.1 L443.7,744.8 L443.9,743.5 L444.1,742.2 L444.3,741.0 L444.5,739.7 L444.7,738.5 L444.9,737.3 L445.1,736.1 L445.4,734.9 L445.6,733.7 L445.9,732.5 L446.2,731.3 L446.5,730.1 L446.8,729.0 L447.1,727.9 L447.5,726.7 L447.8,725.6 L448.2,724.5 L448.5,723.4 L448.9,722.3 L449.3,721.3 L449.7,720.2 L450.1,719.2 L450.6,718.2 L451.0,717.1 L451.4,716.1 L451.9,715.2 L452.4,714.2 L452.9,713.2 L453.3,712.3 L453.9,711.4 L454.4,710.5 L454.9,709.6 L455.4,708.7 L456.0,707.8 L456.5,707.0 L457.1,706.2 L457.7,705.4 L458.2,704.6 L458.8,703.8" stroke-width="1.8" stroke-dasharray="5,3"/>
<path d="M528.1,706.9 L530.2,709.1 L532.4,711.5 L534.4,714.0 L536.5,716.6 L538.5,719.2 L540.4,722.0 L542.3,724.9 L544.1,727.8 L545.9,730.8 L547.6,733.9 L549.3,737.1 L550.9,740.4 L552.4,743.7 L553.9,747.0 L555.3,750.5 L556.6,754.0 L557.8,757.5 L559.0,761.0 L560.1,764.6 L561.1,768.3 L562.0,771.9 L562.9,775.6 L563.6,779.3 L564.3,783.0 L564.9,786.6 L565.4,790.3 L565.8,794.0 L566.1,797.7 L566.4,801.3 L566.5,805.0 L566.6,808.6 L566.6,812.1 L566.4,815.7 L566.2,819.1 L565.9,822.6 L565.6,826.0 L565.1,829.3 L564.5,832.5 L563.9,835.7 L563.2,838.8" stroke-width="1.8" stroke-dasharray="5,3"/>
<path d="M525.6,709.0 L527.6,711.1 L529.6,713.3 L531.6,715.6 L533.5,718.0 L535.4,720.6 L537.2,723.2 L539.0,725.8 L540.8,728.6 L542.5,731.4 L544.1,734.3 L545.7,737.3 L547.2,740.4 L548.7,743.5 L550.1,746.6 L551.5,749.9 L552.8,753.1 L554.0,756.4 L555.1,759.8 L556.2,763.2 L557.2,766.6 L558.2,770.0 L559.0,773.4 L559.8,776.9 L560.6,780.4 L561.2,783.9 L561.8,787.4 L562.2,790.8 L562.6,794.3 L563.0,797.8 L563.2,801.2 L563.4,804.6 L563.5,808.0 L563.5,811.4 L563.4,814.7 L563.2,818.0 L563.0,821.2 L562.7,824.4 L562.3,827.5 L561.8,830.6 L561.2,833.6" stroke-width="1.7" stroke-dasharray="5,3"/>
<path d="M563.2,838.8 L562.3,842.1 L561.3,845.2 L560.3,848.3 L559.1,851.2 L557.9,854.1 L556.5,856.8 L555.1,859.4 L553.6,861.9 L552.0,864.2 L550.4,866.5 L548.6,868.5 L546.8,870.5 L545.0,872.3 L543.0,874.0 L541.0,875.5 L539.0,876.9 L536.8,878.1 L534.7,879.2 L532.5,880.1 L530.2,880.8 L527.9,881.4 L525.5,881.9 L523.1,882.2 L520.7,882.3 L518.3,882.3 L515.8,882.1 L513.4,881.7 L510.9,881.2 L508.4,880.5 L505.8,879.7 L503.3,878.7 L500.8,877.5 L498.3,876.2 L495.8,874.8 L493.4,873.2 L490.9,871.5 L488.5,869.6 L486.0,867.6 L483.7,865.4 L481.3,863.1" stroke-width="2.0" />
<path d="M539.0,867.4 L538.2,868.1 L537.3,868.8 L536.3,869.5 L535.4,870.1 L534.5,870.7 L533.5,871.2 L532.6,871.7 L531.6,872.2 L530.6,872.6 L529.6,872.9 L528.6,873.3 L527.5,873.6 L526.5,873.8 L525.4,874.0 L524.4,874.2 L523.3,874.3 L522.2,874.4 L521.1,874.4 L520.1,874.4 L518.9,874.3 L517.8,874.3 L516.7,874.1 L515.6,873.9 L514.5,873.7 L513.3,873.4 L512.2,873.1 L511.1,872.8 L509.9,872.4 L508.8,872.0 L507.6,871.5 L506.5,871.0 L505.3,870.4 L504.2,869.8 L503.0,869.2 L501.9,868.5 L500.7,867.8 L499.6,867.0 L498.4,866.2 L497.3,865.4 L496.2,864.5" stroke-width="1.6" />
<path d="M661.5,741.7 L664.9,757.2 L666.7,772.8 L666.9,788.0 L665.5,802.4 L662.5,815.7 L658.1,827.7 L652.2,837.9 L645.1,846.1 L636.9,852.1 L627.9,855.8 L618.2,857.1 L608.1,856.0 L597.8,852.4 L587.7,846.5 L577.8,838.4 L568.6,828.4 L560.2,816.6 L552.8,803.3 L546.6,788.9 L541.7,773.7 L538.3,758.2 L536.5,742.6 L536.3,727.4 L537.7,713.0 L540.7,699.7 L545.1,687.7 L551.0,677.5 L558.1,669.3 L566.3,663.3 L575.3,659.6 L585.0,658.3 L595.1,659.4 L605.4,663.0 L615.5,668.9 L625.4,677.0 L634.6,687.0 L643.0,698.8 L650.4,712.1 L656.6,726.5 L661.5,741.7" stroke-width="2" />
<path d="M540.3,756.9 L539.5,751.5 L539.0,746.1 L538.6,740.7 L538.5,735.5 L538.5,730.2 L538.8,725.1 L539.2,720.1 L539.9,715.2 L540.7,710.4 L541.7,705.8 L543.0,701.4 L544.4,697.1 L546.0,693.1 L547.7,689.2 L549.7,685.6 L551.8,682.2 L554.0,679.1 L556.4,676.2 L559.0,673.5 L561.7,671.2 L564.5,669.1 L567.4,667.3 L570.5,665.8 L573.6,664.6 L576.8,663.7 L580.1,663.1 L583.5,662.8 L586.9,662.8 L590.4,663.2 L593.9,663.8 L597.4,664.7 L600.9,666.0 L604.5,667.5 L608.0,669.3 L611.5,671.4 L614.9,673.8 L618.4,676.5 L621.7,679.4 L625.0,682.5 L628.2,686.0" stroke-width="1.8" />
<path d="M541.5,749.3 L541.0,744.5 L540.8,739.8 L540.7,735.1 L540.8,730.5 L541.0,726.0 L541.4,721.5 L541.9,717.2 L542.7,712.9 L543.5,708.8 L544.5,704.8 L545.7,701.0 L547.1,697.4 L548.5,693.9 L550.1,690.5 L551.9,687.4 L553.8,684.5 L555.8,681.7 L557.9,679.2 L560.1,676.9 L562.5,674.8 L565.0,673.0 L567.5,671.4 L570.2,670.0 L572.9,668.9 L575.7,668.0 L578.5,667.4 L581.5,667.0 L584.4,666.9 L587.4,667.0 L590.5,667.3 L593.6,668.0 L596.7,668.8 L599.8,670.0 L602.9,671.3 L606.0,672.9 L609.1,674.8 L612.1,676.8 L615.1,679.1 L618.1,681.6 L621.0,684.3" stroke-width="1.8" />
<path d="M543.4,741.7 L543.4,737.9 L543.4,734.2 L543.5,730.6 L543.8,726.9 L544.1,723.4 L544.6,719.9 L545.1,716.5 L545.8,713.2 L546.6,710.0 L547.4,706.8 L548.4,703.8 L549.5,700.8 L550.6,698.0 L551.9,695.3 L553.2,692.7 L554.6,690.3 L556.1,688.0 L557.7,685.8 L559.4,683.7 L561.2,681.8 L563.0,680.1 L564.9,678.5 L566.8,677.0 L568.8,675.7 L570.9,674.6 L573.0,673.6 L575.2,672.8 L577.4,672.2 L579.7,671.7 L582.0,671.4 L584.3,671.2 L586.7,671.3 L589.1,671.5 L591.5,671.8 L593.9,672.4 L596.3,673.1 L598.8,673.9 L601.2,674.9 L603.6,676.1 L606.1,677.5" stroke-width="1.7" />
<path d="M553.6,777.9 L552.1,772.4 L550.9,766.9 L549.9,761.3 L549.1,755.7 L548.5,750.1 L548.2,744.6 L548.1,739.2 L548.2,733.8 L548.5,728.6 L549.1,723.5 L549.9,718.6 L551.0,713.9 L552.2,709.3 L553.7,705.0 L555.3,701.0 L557.2,697.2 L559.2,693.8 L561.5,690.6 L563.9,687.7 L566.4,685.2 L569.1,683.0 L572.0,681.2 L574.9,679.7 L578.0,678.6 L581.1,677.8 L584.4,677.5 L587.7,677.5 L591.0,677.9 L594.4,678.7 L597.8,679.8 L601.3,681.3 L604.6,683.2 L608.0,685.4 L611.3,688.0 L614.6,690.8 L617.8,694.1 L620.9,697.6 L623.9,701.4 L626.8,705.4 L629.6,709.7" stroke-width="1.7" />
<path d="M637.5,697.9 L640.6,702.7 L643.6,707.7 L646.4,712.9 L649.0,718.3 L651.4,723.9 L653.6,729.6 L655.6,735.4 L657.3,741.3 L658.9,747.3 L660.2,753.3 L661.3,759.3 L662.1,765.3 L662.7,771.3 L663.0,777.3 L663.1,783.2 L663.0,788.9 L662.6,794.6 L661.9,800.1 L661.0,805.4 L659.9,810.6 L658.5,815.5 L656.9,820.2 L655.1,824.7 L653.0,828.9 L650.7,832.8 L648.3,836.4 L645.6,839.7 L642.8,842.7 L639.8,845.3 L636.7,847.6 L633.4,849.5 L629.9,851.1 L626.4,852.3 L622.8,853.1 L619.0,853.5 L615.2,853.6 L611.4,853.3 L607.5,852.5 L603.5,851.5 L599.6,850.0" stroke-width="1.8" />
<path d="M646.0,721.3 L648.0,726.2 L650.0,731.3 L651.8,736.4 L653.3,741.6 L654.8,746.9 L656.0,752.2 L657.0,757.5 L657.9,762.9 L658.5,768.2 L659.0,773.5 L659.2,778.7 L659.3,783.9 L659.2,789.0 L658.8,794.0 L658.3,798.8 L657.6,803.6 L656.6,808.1 L655.5,812.6 L654.2,816.8 L652.7,820.8 L651.0,824.7 L649.2,828.3 L647.2,831.7 L645.0,834.8 L642.7,837.7 L640.3,840.3 L637.7,842.6 L635.0,844.7 L632.1,846.4 L629.2,847.9 L626.1,849.1 L623.0,849.9 L619.8,850.5 L616.5,850.7 L613.2,850.7 L609.8,850.3 L606.4,849.6 L603.0,848.6 L599.5,847.4 L596.1,845.8" stroke-width="1.8" />
<path d="M650.6,746.7 L651.7,751.3 L652.6,756.0 L653.4,760.7 L654.1,765.4 L654.5,770.1 L654.9,774.7 L655.0,779.4 L655.0,783.9 L654.9,788.4 L654.6,792.8 L654.1,797.1 L653.5,801.3 L652.7,805.4 L651.8,809.3 L650.7,813.1 L649.5,816.8 L648.1,820.3 L646.6,823.6 L644.9,826.7 L643.2,829.7 L641.3,832.4 L639.3,835.0 L637.1,837.3 L634.9,839.4 L632.6,841.3 L630.1,842.9 L627.6,844.3 L625.0,845.5 L622.4,846.4 L619.6,847.1 L616.8,847.6 L614.0,847.8 L611.1,847.7 L608.2,847.4 L605.2,846.8 L602.3,846.0 L599.3,845.0 L596.3,843.7 L593.4,842.1 L590.4,840.4" stroke-width="1.8" />
<path d="M648.8,763.5 L649.3,767.7 L649.6,771.9 L649.9,776.0 L649.9,780.1 L649.9,784.1 L649.7,788.1 L649.4,792.0 L649.0,795.9 L648.4,799.6 L647.7,803.2 L646.9,806.8 L646.0,810.2 L644.9,813.5 L643.7,816.6 L642.4,819.6 L641.1,822.5 L639.5,825.2 L637.9,827.7 L636.2,830.1 L634.4,832.3 L632.5,834.3 L630.6,836.1 L628.5,837.8 L626.4,839.2 L624.2,840.4 L621.9,841.5 L619.6,842.3 L617.2,842.9 L614.8,843.3 L612.3,843.5 L609.8,843.5 L607.3,843.3 L604.7,842.9 L602.2,842.2 L599.6,841.4 L597.0,840.3 L594.4,839.1 L591.9,837.6 L589.3,836.0 L586.8,834.2" stroke-width="1.7" />
<path d="M644.6,771.0 L644.7,774.8 L644.8,778.6 L644.7,782.4 L644.5,786.1 L644.2,789.8 L643.8,793.3 L643.3,796.8 L642.6,800.2 L641.8,803.5 L641.0,806.7 L640.0,809.7 L638.9,812.7 L637.7,815.5 L636.4,818.2 L635.0,820.7 L633.5,823.0 L631.9,825.3 L630.3,827.3 L628.5,829.2 L626.7,830.9 L624.8,832.4 L622.8,833.7 L620.8,834.9 L618.7,835.9 L616.6,836.6 L614.4,837.2 L612.2,837.6 L609.9,837.8 L607.6,837.8 L605.3,837.6 L603.0,837.2 L600.6,836.6 L598.3,835.9 L595.9,834.9 L593.6,833.7 L591.2,832.4 L588.9,830.8 L586.6,829.1 L584.3,827.3 L582.1,825.2" stroke-width="1.7" />
<path d="M631.0,752.5 L632.1,761.4 L632.4,770.1 L631.8,778.6 L630.3,786.6 L628.0,794.0 L625.0,800.4 L621.2,805.8 L616.9,810.0 L612.1,813.0 L606.9,814.6 L601.5,814.9 L595.9,813.7 L590.4,811.2 L585.0,807.4 L580.0,802.4 L575.3,796.3 L571.2,789.3 L567.7,781.5 L565.0,773.2 L563.0,764.5 L561.9,755.6 L561.6,746.9 L562.2,738.4 L563.7,730.4 L566.0,723.0 L569.0,716.6 L572.8,711.2 L577.1,707.0 L581.9,704.0 L587.1,702.4 L592.5,702.1 L598.1,703.3 L603.6,705.8 L609.0,709.6 L614.0,714.6 L618.7,720.7 L622.8,727.7 L626.3,735.5 L629.0,743.8 L631.0,752.5" stroke-width="2.1" />
<path d="M607.4,760.7 L607.7,765.3 L607.6,769.8 L607.0,774.1 L605.9,778.1 L604.5,781.8 L602.7,785.0 L600.5,787.6 L598.0,789.7 L595.4,791.1 L592.5,791.8 L589.6,791.8 L586.7,791.1 L583.8,789.7 L581.1,787.6 L578.5,784.9 L576.2,781.7 L574.2,778.1 L572.6,774.0 L571.4,769.7 L570.6,765.3 L570.3,760.7 L570.4,756.2 L571.0,751.9 L572.1,747.9 L573.5,744.2 L575.3,741.0 L577.5,738.4 L580.0,736.3 L582.6,734.9 L585.5,734.2 L588.4,734.2 L591.3,734.9 L594.2,736.3 L596.9,738.4 L599.5,741.1 L601.8,744.3 L603.8,747.9 L605.4,752.0 L606.6,756.3 L607.4,760.7" stroke-width="1.9" />
<path d="M594.0,761.2 L594.1,763.1 L594.1,764.9 L593.9,766.7 L593.6,768.4 L593.1,769.9 L592.5,771.2 L591.7,772.3 L590.9,773.1 L590.0,773.6 L589.0,773.9 L587.9,773.9 L586.9,773.6 L585.9,773.0 L584.9,772.1 L584.0,771.0 L583.1,769.6 L582.4,768.1 L581.8,766.4 L581.4,764.6 L581.0,762.8 L580.9,760.9 L580.9,759.1 L581.1,757.3 L581.4,755.6 L581.9,754.1 L582.5,752.8 L583.3,751.7 L584.1,750.9 L585.0,750.4 L586.0,750.1 L587.1,750.1 L588.1,750.4 L589.1,751.0 L590.1,751.9 L591.0,753.0 L591.9,754.4 L592.6,755.9 L593.2,757.6 L593.6,759.4 L594.0,761.2" stroke-width="2.1" />
<path d="M586.3,777.2 L585.9,776.9 L585.4,776.4 L585.0,776.0 L584.6,775.5 L584.1,775.0 L583.7,774.5 L583.3,773.9 L583.0,773.3 L582.6,772.7 L582.2,772.1 L581.9,771.4 L581.6,770.7 L581.3,770.0 L581.0,769.3 L580.8,768.6 L580.5,767.8 L580.3,767.1 L580.1,766.3 L579.9,765.5 L579.8,764.7 L579.7,763.9 L579.6,763.1 L579.5,762.3 L579.4,761.4 L579.4,760.6 L579.4,759.8 L579.4,759.0 L579.4,758.2 L579.5,757.4 L579.5,756.7 L579.6,755.9 L579.8,755.2 L579.9,754.4 L580.1,753.7 L580.3,753.0 L580.5,752.3 L580.7,751.7 L581.0,751.0 L581.2,750.4 L581.5,749.9" stroke-width="1.6" />
<path d="M600.8,759.6 q2.8,-0.6 2.8,1.8 q0,2.2 -2.8,2" stroke-width="1.80"/>
<path d="M598.8,775.5 q2.8,-0.6 2.8,1.8 q0,2.2 -2.8,2" stroke-width="1.80"/>
<path d="M590.1,783.0 q2.8,-0.6 2.8,1.8 q0,2.2 -2.8,2" stroke-width="1.80"/>
<path d="M579.8,777.8 q2.8,-0.6 2.8,1.8 q0,2.2 -2.8,2" stroke-width="1.80"/>
<path d="M574.0,762.8 q2.8,-0.6 2.8,1.8 q0,2.2 -2.8,2" stroke-width="1.80"/>
<path d="M576.0,746.9 q2.8,-0.6 2.8,1.8 q0,2.2 -2.8,2" stroke-width="1.80"/>
<path d="M584.7,739.4 q2.8,-0.6 2.8,1.8 q0,2.2 -2.8,2" stroke-width="1.80"/>
<path d="M595.0,744.6 q2.8,-0.6 2.8,1.8 q0,2.2 -2.8,2" stroke-width="1.80"/>
<path d="M595.0,729.4 L595.5,729.6 L596.0,729.8 L596.4,730.0 L596.9,730.3 L597.3,730.5 L597.8,730.8 L598.3,731.0 L598.7,731.3 L599.2,731.6 L599.6,731.9 L600.0,732.3 L600.5,732.6 L600.9,732.9 L601.4,733.3 L601.8,733.7 L602.2,734.0 L602.6,734.4 L603.0,734.8 L603.5,735.3 L603.9,735.7 L604.3,736.1 L604.7,736.6 L605.0,737.0 L605.4,737.5 L605.8,738.0 L606.2,738.5 L606.5,739.0 L606.9,739.5 L607.3,740.0 L607.6,740.5 L608.0,741.0 L608.3,741.6 L608.6,742.1 L608.9,742.7 L609.3,743.3 L609.6,743.9 L609.9,744.4 L610.2,745.0 L610.5,745.6 L610.7,746.2" stroke-width="1.7" />
<path d="M614.4,776.5 L614.3,777.0 L614.2,777.6 L614.1,778.2 L614.0,778.8 L613.8,779.3 L613.7,779.9 L613.5,780.5 L613.4,781.0 L613.2,781.6 L613.0,782.1 L612.9,782.6 L612.7,783.2 L612.5,783.7 L612.3,784.2 L612.1,784.7 L611.9,785.2 L611.6,785.7 L611.4,786.2 L611.2,786.7 L610.9,787.2 L610.7,787.7 L610.5,788.1 L610.2,788.6 L609.9,789.0 L609.7,789.5 L609.4,789.9 L609.1,790.4 L608.8,790.8 L608.6,791.2 L608.3,791.6 L608.0,792.0 L607.7,792.4 L607.3,792.8 L607.0,793.1 L606.7,793.5 L606.4,793.8 L606.1,794.2 L605.7,794.5 L605.4,794.8 L605.0,795.1" stroke-width="1.7" />
<path d="M531.7,878 V898 M531.7,920 V948.4 H622 V858 M576.7,948 V953" stroke-width="1.80"/>
</g>
<g fill="none" stroke="#000" stroke-linejoin="round" stroke-linecap="round">
<path d="M671.7,703 V731" stroke-width="1.80"/>
<path d="M666,735 L678,732 L679,740 L667,743 Q663.5,743 663.5,739 Q664,735.5 666,735 Z" stroke-width="2.10"/>
<ellipse cx="683" cy="735" rx="5.5" ry="6.8" fill="#000" stroke-width="1.30"/>
<ellipse cx="682" cy="735.5" rx="2.3" ry="3" fill="#fff" stroke="none"/>
<path d="M670,735 L672,742 M674,734 L676,741" stroke-width="1.50"/>
<path d="M676,784 L688,780.5 Q692.5,780 692.5,784.5 Q692.5,788 689,789 L677,792.5 Q673,793 673,789 Q673,785 676,784 Z" stroke-width="2.10"/>
<path d="M677,792 V839" stroke-width="1.80"/>
</g>
<g fill="none" stroke="#000" stroke-linejoin="round" stroke-linecap="round">
<path d="M194.5,875.0 C195.9,874.7 200.2,873.6 203.0,873.0 C205.8,872.4 209.5,872.4 211.0,871.5 C212.5,870.6 210.6,868.3 212.0,867.5 C213.4,866.7 217.4,867.4 219.5,866.5 C221.6,865.6 223.3,863.8 224.6,862.0 C225.8,860.2 225.7,859.1 227.0,856.0 C228.3,852.9 231.0,847.4 232.6,843.3 C234.2,839.2 234.6,835.0 236.6,831.4 C238.6,827.8 241.2,823.8 244.5,821.5 C247.8,819.2 252.1,818.3 256.4,817.5 C260.7,816.7 267.0,817.7 270.3,816.5 C273.6,815.3 273.7,811.9 276.0,810.5 C278.3,809.1 281.3,808.0 284.0,808.2 C286.7,808.4 289.6,809.8 292.0,811.5 C294.4,813.2 296.1,816.1 298.1,818.5 C300.1,820.9 302.0,824.2 304.0,826.0 C306.0,827.8 307.8,828.3 310.0,829.0 C312.2,829.7 314.8,830.5 317.0,830.0 C319.2,829.5 321.8,828.5 323.0,826.0 C324.2,823.5 324.8,818.8 324.0,815.0 C323.2,811.2 320.2,806.5 318.0,803.0 C315.8,799.5 312.4,796.7 311.0,794.0 C309.6,791.3 308.7,788.4 309.8,786.7 C310.9,785.1 313.6,784.8 317.5,784.1 C321.4,783.4 329.3,783.5 333.0,782.4 C336.7,781.2 335.0,778.6 339.9,777.2 C344.8,775.8 356.2,773.9 362.2,773.8 C368.2,773.6 371.7,774.6 376.0,776.3 C380.3,778.0 384.3,781.1 388.0,784.1 C391.7,787.1 395.8,791.9 398.3,794.4 C400.8,796.9 402.0,799.7 403.0,799.0 C404.0,798.3 404.1,793.2 404.5,790.0 C404.9,786.8 404.7,783.2 405.6,780.0 C406.6,776.8 408.2,773.7 410.2,770.9 C412.2,768.1 414.5,765.5 417.8,763.3 C421.1,761.1 426.2,759.4 430.0,757.9 C433.8,756.4 437.3,754.9 440.6,754.1 C443.9,753.4 446.8,752.9 449.8,753.4 C452.9,753.9 456.1,755.6 458.9,757.2 C461.7,758.9 464.5,761.8 466.5,763.3 C468.5,764.8 469.1,766.3 471.1,766.3 C473.1,766.3 476.2,764.1 478.7,763.3 C481.2,762.5 483.8,761.5 486.3,761.7 C488.8,762.0 491.4,762.8 493.9,764.8 C496.4,766.8 499.5,770.1 501.5,773.9 C503.5,777.7 505.2,783.0 506.0,787.6 C506.8,792.2 506.5,797.5 506.0,801.3 C505.5,805.1 504.8,807.9 503.0,810.4 C501.2,812.9 497.7,815.2 495.4,816.5 C493.1,817.8 489.8,816.7 489.3,818.0 C488.8,819.3 491.4,822.1 492.4,824.1 C493.4,826.1 494.9,826.9 495.4,830.2 C495.9,833.5 496.2,840.6 495.4,843.9 C494.6,847.2 493.3,848.2 490.8,850.0 C488.3,851.8 484.0,853.1 480.2,854.5 C476.4,855.9 472.1,857.5 468.0,858.3 C463.9,859.1 459.6,859.2 455.8,859.1 C452.0,859.0 448.8,858.9 445.2,857.6 C441.6,856.3 437.3,854.0 434.5,851.5 C431.7,849.0 429.8,842.6 428.2,842.8 C426.6,843.0 426.4,849.5 424.8,852.7 C423.2,855.9 421.0,859.6 418.4,862.2 C415.8,864.9 412.1,867.1 408.9,868.6 C405.7,870.1 402.0,870.2 399.4,871.0 C396.8,871.8 395.1,872.5 393.0,873.3 C390.9,874.1 389.6,875.4 386.7,875.7 C383.8,876.0 378.5,875.8 375.6,874.9 C372.7,874.0 370.5,871.5 369.2,870.2 C367.9,868.9 368.7,866.2 367.6,867.0 C366.6,867.8 365.0,872.2 362.9,874.9 C360.8,877.5 358.1,880.5 354.9,882.9 C351.7,885.3 348.0,887.4 343.8,889.2 C339.6,891.1 333.5,893.1 329.5,894.0 C325.5,894.9 322.6,895.0 320.0,894.8 C317.4,894.6 316.1,894.0 314.0,893.0 C311.9,892.0 309.2,890.5 307.2,889.0 C305.2,887.5 303.4,883.8 302.0,884.0 C300.6,884.2 299.6,884.9 299.0,890.0 C298.4,895.1 299.2,910.0 298.1,914.8 C297.0,919.6 295.1,917.1 292.1,918.7 C289.1,920.4 284.8,923.7 280.2,924.7 C275.6,925.7 270.3,925.7 264.4,924.7 C258.4,923.7 250.4,921.7 244.5,918.7 C238.6,915.7 232.3,910.4 228.7,906.8 C225.1,903.2 224.3,899.7 222.7,897.0 C221.1,894.3 220.7,891.8 219.0,890.5 C217.3,889.2 215.6,889.3 212.5,889.4 C209.4,889.5 203.6,891.4 200.5,891.0 C197.4,890.6 195.0,889.7 194.0,887.0 C193.0,884.3 194.4,877.0 194.5,875.0 Z" fill="#fff" stroke-width="2.15"/>
<ellipse cx="196" cy="882" rx="3.6" ry="7.6" stroke-width="2.15"/>
<path d="M211.5,871 V889.4 M214.8,875 H221.7 V887.5 H214.8 Z" stroke-width="1.95"/>
<path d="M199,879 Q197,882 199.5,886" stroke-width="1.45"/>
<ellipse cx="231.6" cy="879" rx="9" ry="16" fill="#000" stroke="none"/>
<ellipse cx="231.6" cy="879" rx="9" ry="16" stroke="#fff" stroke-width="1" stroke-dasharray="1,1.6"/>
<ellipse cx="230.8" cy="879.5" rx="4.2" ry="9.5" fill="#fff" stroke-width="2"/>
<ellipse cx="233.5" cy="878" rx="11" ry="19" stroke-width="1.8"/>
<ellipse cx="232.6" cy="872" rx="15.5" ry="26.5" stroke-width="3"/>
<ellipse cx="234" cy="872.5" rx="12.5" ry="23" stroke-width="1.65"/>
<ellipse cx="252.5" cy="869" rx="13.5" ry="25.5" stroke-width="2.35"/>
<ellipse cx="254" cy="869.5" rx="10" ry="21.5" stroke-width="1.75"/>
<path d="M270.3,817.5 C271.3,820.5 275.0,829.8 276.3,835.4 C277.6,841.0 278.2,846.2 278.3,851.3 C278.4,856.4 277.0,861.6 277.0,866.0 C277.0,870.4 277.5,873.3 278.1,877.4 C278.7,881.5 279.3,887.1 280.5,890.5 C281.7,893.9 282.6,895.8 285.2,897.6 C287.8,899.4 293.8,898.3 295.9,901.2 C298.0,904.1 297.7,912.5 298.1,914.8" stroke-width="2.0" />
<path d="M257.9,819.0 C259.3,820.2 264.0,823.6 266.2,826.2 C268.4,828.8 269.8,831.3 271.0,834.5 C272.2,837.7 272.7,842.0 273.3,845.2 C273.9,848.4 274.3,850.4 274.5,853.6 C274.7,856.8 274.5,862.5 274.5,864.3" stroke-width="1.8" />
<path d="M268.6,817.3 C269.8,818.4 273.7,821.5 275.7,823.8 C277.7,826.1 279.1,828.6 280.5,831.0 C281.9,833.4 283.0,835.3 284.0,838.1 C285.0,840.9 286.0,846.0 286.4,847.6" stroke-width="1.8" />
<path d="M275.7,816.7 C277.1,818.1 281.8,822.0 284.0,825.0 C286.2,828.0 288.0,830.7 288.8,834.5 C289.6,838.3 288.8,845.4 288.8,847.6" stroke-width="1.8" />
<path d="M286.4,815.5 C287.8,816.9 292.6,820.8 294.8,823.8 C297.0,826.8 298.5,830.3 299.5,833.3 C300.5,836.3 300.9,839.3 300.7,841.7 C300.5,844.1 298.7,846.6 298.3,847.6" stroke-width="1.8" />
<path d="M274.5,839.3 L285.2,838.5 L285.5,848.8 L275,849.5 Z" fill="#000" stroke-width="1.2"/>
<path d="M269.8,885.7 L271.0,895.2" stroke-width="1.7" />
<path d="M282.9,909.5 L282.9,915.5" stroke-width="1.7" />
<path d="M222.7,897.0 C223.7,898.6 225.1,903.2 228.7,906.8 C232.3,910.4 241.9,916.7 244.5,918.7" stroke-width="1.9" />
<path d="M282.9,852.4 C284.1,852.0 287.6,850.8 290.0,850.0 C292.4,849.2 295.1,848.8 297.1,847.6 C299.1,846.4 301.1,843.7 301.9,842.9" stroke-width="1.8" />
<path d="M280.5,856.0 L279.3,866.7" stroke-width="1.7" />
<path d="M281.7,871.4 C282.7,872.0 285.2,874.2 287.6,875.0 C290.0,875.8 293.6,876.4 296.0,876.2 C298.4,876.0 300.3,875.4 301.9,873.8 C303.5,872.2 304.7,869.5 305.5,866.7 C306.3,863.9 306.7,860.3 306.7,857.1 C306.7,853.9 305.7,849.2 305.5,847.6" stroke-width="1.8" />
<path d="M304.3,828.6 C305.5,829.8 309.6,832.5 311.4,835.7 C313.2,838.9 314.6,843.6 315.0,847.6 C315.4,851.6 314.8,855.9 313.8,859.5 C312.8,863.1 310.8,866.2 309.0,869.0 C307.2,871.8 304.1,875.0 303.1,876.2" stroke-width="1.9" />
<path d="M309.0,828.0 C310.2,829.3 314.2,832.7 316.0,836.0 C317.8,839.3 319.5,843.8 320.0,848.0 C320.5,852.2 320.0,857.2 319.0,861.0 C318.0,864.8 314.8,869.3 314.0,871.0" stroke-width="1.7" />
<path d="M314.0,829.0 C315.2,830.5 319.2,834.5 321.0,838.0 C322.8,841.5 324.5,845.8 325.0,850.0 C325.5,854.2 324.8,859.3 324.0,863.0 C323.2,866.7 320.7,870.5 320.0,872.0" stroke-width="1.7" />
<path d="M303.1,877.4 C304.1,879.0 306.6,884.3 309.0,886.9 C311.4,889.5 314.6,891.5 317.4,892.9 C320.2,894.3 324.3,894.8 325.7,895.2" stroke-width="1.8" />
<path d="M305.5,876.2 C307.3,876.6 312.8,879.0 316.2,878.6 C319.6,878.2 324.1,874.6 325.7,873.8" stroke-width="1.7" />
<path d="M309.5,786.4 C309.5,787.6 308.4,791.4 309.5,793.6 C310.6,795.9 313.5,797.8 315.9,799.9 C318.3,802.0 322.1,804.7 323.8,806.3 C325.5,807.9 325.8,808.9 326.2,809.4" stroke-width="2.0" />
<path d="M326.2,809.4 C326.1,811.2 325.8,815.8 325.4,820.0 C325.0,824.2 324.1,832.3 323.8,834.8" stroke-width="1.9" />
<path d="M326.2,809.4 C327.3,810.2 330.8,812.7 333.0,814.0 C335.2,815.3 336.7,816.6 339.7,817.4 C342.7,818.2 346.8,818.5 350.8,819.0 C354.8,819.5 359.5,820.9 363.5,820.6 C367.5,820.3 372.2,818.5 374.6,817.4 C377.0,816.3 375.4,814.9 377.8,814.2 C380.2,813.6 385.5,813.4 388.9,813.5 C392.3,813.6 396.0,815.1 398.4,815.0 C400.8,814.9 402.0,813.8 403.2,812.6 C404.4,811.4 405.2,808.7 405.6,807.9" stroke-width="2.0" />
<path d="M342.9,790.4 L361.9,809.4" stroke-width="1.7" />
<path d="M344.4,794.4 L358.7,811.0" stroke-width="1.7" />
<path d="M347.6,788.8 L368.3,804.7" stroke-width="1.7" />
<path d="M352.4,790.4 L373.0,811.0" stroke-width="1.7" />
<path d="M366.7,780.9 L388.9,806.3" stroke-width="1.7" />
<path d="M373.0,782.5 L392.0,803.1" stroke-width="1.7" />
<path d="M377.8,780.9 L395.2,799.9" stroke-width="1.7" />
<path d="M388.9,804.7 C390.5,804.4 395.8,802.9 398.4,803.1 C401.0,803.3 403.7,805.5 404.8,806.0" stroke-width="1.6" />
<path d="M325.4,783.3 C327.0,783.8 332.5,784.9 334.9,786.0 C337.3,787.1 338.9,789.3 339.7,790.0" stroke-width="1.5" />
<path d="M360.3,821.0 L360.3,836.0" stroke-width="1.6" />
<path d="M379.4,817.4 C379.7,818.8 380.5,822.9 381.0,826.0 C381.5,829.1 382.2,834.3 382.5,836.0" stroke-width="2.8" />
<path d="M325.3,830.5 C328.0,830.8 336.3,829.9 341.6,832.2 C346.9,834.5 354.4,842.3 357.0,844.3" stroke-width="1.85" />
<path d="M364.0,828.8 C364.3,831.7 366.0,840.3 365.7,846.0 C365.4,851.7 363.9,858.0 362.2,863.2 C360.5,868.4 357.9,873.3 355.3,877.0 C352.7,880.7 350.1,882.9 346.7,885.5 C343.3,888.1 336.7,891.2 334.7,892.4" stroke-width="1.95" />
<path d="M358.0,828.0 C358.3,831.0 360.3,840.3 360.0,846.0 C359.7,851.7 357.7,857.3 356.0,862.0 C354.3,866.7 351.0,872.0 350.0,874.0" stroke-width="1.65" />
<path d="M372.0,822.0 C373.0,823.3 376.4,827.3 378.0,830.0 C379.6,832.7 380.5,834.7 381.5,838.0 C382.5,841.3 383.5,846.0 384.0,850.0 C384.5,854.0 385.3,858.2 384.4,862.2 C383.5,866.2 379.6,872.0 378.6,873.9" stroke-width="1.9" />
<path d="M386.0,822.0 C386.3,824.0 387.5,829.7 388.0,834.0 C388.5,838.3 388.8,843.7 389.0,848.0 C389.2,852.3 389.0,858.0 389.0,860.0" stroke-width="1.7" />
<path d="M391.0,818.0 C391.3,820.0 392.4,825.5 393.0,830.0 C393.6,834.5 394.2,840.5 394.5,845.0 C394.8,849.5 394.5,855.0 394.5,857.0" stroke-width="2.4" />
<path d="M401.9,800.0 C403.2,802.0 407.3,807.7 410.0,812.0 C412.7,816.3 416.0,821.0 418.0,826.0 C420.0,831.0 421.8,836.0 422.0,842.0 C422.2,848.0 422.2,856.9 419.3,862.2 C416.4,867.5 410.1,871.5 404.8,873.9 C399.5,876.3 390.2,876.3 387.3,876.8" stroke-width="1.9" />
<path d="M410.2,781.5 C412.2,781.8 418.6,781.7 422.4,783.0 C426.2,784.3 430.0,786.6 433.0,789.1 C436.0,791.6 438.8,794.7 440.6,798.2 C442.4,801.8 442.9,806.6 443.7,810.4 C444.5,814.2 444.9,819.3 445.2,821.1" stroke-width="1.8" />
<path d="M411.7,769.3 C414.0,769.0 421.1,766.8 425.4,767.8 C429.7,768.8 435.6,774.1 437.6,775.4" stroke-width="1.7" />
<path d="M430.0,757.9 C431.3,759.5 435.6,763.6 437.6,767.8 C439.6,772.0 441.2,777.9 442.2,783.0 C443.2,788.1 443.7,793.1 443.7,798.2 C443.7,803.3 444.0,808.7 442.2,813.5 C440.4,818.3 435.3,824.1 433.0,827.1 C430.7,830.1 429.2,830.9 428.5,831.7" stroke-width="2.0" />
<path d="M439.1,755.6 C440.4,757.4 444.4,761.7 446.7,766.3 C449.0,770.9 451.5,777.7 452.8,783.0 C454.1,788.3 454.3,793.9 454.3,798.2 C454.3,802.5 454.3,805.1 452.8,808.9 C451.3,812.7 448.2,817.5 445.2,821.1 C442.1,824.7 436.3,828.7 434.5,830.2" stroke-width="2.0" />
<path d="M448.2,754.1 C449.7,755.9 454.8,761.2 457.4,764.8 C459.9,768.3 462.0,772.4 463.5,775.4 C465.0,778.4 466.0,781.7 466.5,783.0" stroke-width="1.8" />
<path d="M404.1,793.7 C405.9,794.5 411.5,796.2 414.8,798.2 C418.1,800.2 421.6,802.5 423.9,805.8 C426.2,809.1 427.7,813.9 428.5,818.0 C429.3,822.1 428.5,828.2 428.5,830.2" stroke-width="1.8" />
<path d="M399.6,793.7 C401.4,795.2 407.7,799.2 410.2,802.8 C412.7,806.3 414.3,810.4 414.8,815.0 C415.3,819.6 414.1,825.6 413.3,830.2 C412.5,834.8 410.7,840.4 410.2,842.4" stroke-width="1.8" />
<path d="M454.3,813.5 C456.3,814.8 462.7,818.6 466.5,821.1 C470.3,823.6 472.8,827.7 477.1,828.7 C481.4,829.7 489.8,827.4 492.4,827.1" stroke-width="1.9" />
<path d="M469.5,790.6 C470.5,792.6 474.6,798.5 475.6,802.8 C476.6,807.1 475.1,812.2 475.6,816.5 C476.1,820.8 478.2,826.7 478.7,828.7" stroke-width="1.8" />
<path d="M455.8,796.7 C456.7,796.1 459.2,794.0 461.0,793.0 C462.8,792.0 465.6,791.0 466.5,790.6" stroke-width="1.6" />
<path d="M480.2,842.4 V850 L485,849" stroke-width="1.6"/>
<path d="M474.6,769.1 C475.5,770.6 478.5,774.6 480.0,778.0 C481.5,781.4 482.3,784.7 483.4,789.5 C484.4,794.3 486.8,802.0 486.3,806.9 C485.8,811.8 481.4,816.6 480.4,818.6" stroke-width="1.95" />
<path d="M479.5,769 q2.5,-0.5 2.8,1.8 q0.2,2.3 -2.3,2.4" stroke-width="1.75"/>
<circle cx="491.6" cy="786.1" r="2.4" stroke-width="1.85"/>
<path d="M489,801 L493,806 L496,800 M491,811 L494,805" stroke-width="1.95"/>
<path d="M363,744 V773.5" stroke-width="1.95"/>
</g>
<g fill="none" stroke="#000" stroke-linejoin="round" stroke-linecap="round">
<path d="M370.3,990 V1019 M419,976 V1006" stroke-width="1.5"/>
<path d="M354,1034.5 C353,1026 358.5,1019 368,1018.5 C378,1019 386.5,1030 387.5,1053 L382.5,1053.5 C381,1036 375.5,1025 368,1024.5 C362,1024.5 358.5,1029 359.5,1035 Z" fill="#fff" stroke-width="2.6"/>
<path d="M362,1021 L372,1022" stroke-width="1.2"/>
<path d="M403,1021 C402,1012 408,1005.5 417.5,1005.5 C428,1006 436,1020 437,1039 L432.5,1039.5 C431,1024 425,1012.5 418,1012 C412,1012 408.5,1016 408.5,1021.5 Z" fill="#fff" stroke-width="2.6"/>
<path d="M681,1010 L686,1011 L704,1021.5 L709,1018 L718.8,1036.5 L698,1036.5 L700.5,1031 L689,1025 L679,1018.5 L678.3,1015 Z" fill="#000" stroke-width="0.8"/>
<path d="M525.5,1002.5 H539.5 M527.5,1004.8 H537.5 V1010 H527.5 Z M527.5,1007.4 H537.5 M525,1012.3 H540 M532.5,1001 V1015" stroke-width="1.9" stroke-linecap="butt"/>
<path d="M541,1002.5 H553.5 M542,1015 V1005 H552.5 V1015 M545.6,1003 V1011.5 M549,1003 V1011.5 M545.6,1008.5 H549 M543,1011.5 H551.5" stroke-width="1.9" stroke-linecap="butt"/>
<path d="M558.8,1001 L560.3,1003.2 M566.6,1001 L565.2,1003.2 M556,1004.3 H570 M557.6,1015 V1006.3 H562.5 V1015 M557.6,1009.2 H562.5 M557.6,1011.8 H562.5 M565.6,1006.8 V1012.5 M568.6,1005.8 V1015" stroke-width="1.9" stroke-linecap="butt"/>
<path d="M578,1001 V1003.2 M571,1004.3 H585 M576,1004.3 Q575.5,1011 571.5,1014.8 M576,1007.8 H583 Q583.2,1014 579,1014.8" stroke-width="1.9" stroke-linecap="butt"/>
</g>
<g fill="none" stroke="#000" stroke-linejoin="round" stroke-linecap="round" stroke-width="1.3" stroke-dasharray="9,1.6">
<path d="M396.5,425.6 C395.6,426.2 393.1,427.9 390.9,429.3 C388.7,430.7 386.3,433.0 383.5,433.9 C380.7,434.8 376.2,433.8 374.3,434.8 C372.4,435.8 372.0,437.5 372.0,440.0 C372.0,442.5 372.4,447.5 374.3,449.6 C376.2,451.7 379.5,452.1 383.5,452.4 C387.5,452.7 395.2,452.3 398.3,451.5 C401.4,450.7 401.4,448.4 402.0,447.8"/>
<path d="M395.6,423.7 C395.8,422.5 395.4,418.5 396.5,416.3 C397.6,414.1 399.9,411.8 402.0,410.7 C404.1,409.6 406.9,409.5 409.4,409.8 C411.9,410.1 415.6,412.1 416.9,412.6"/>
<path d="M407.6,414.4 C408.7,414.7 411.8,415.1 414.0,416.0 C416.2,416.9 419.5,419.3 420.6,420.0"/>
<path d="M413.1,410.7 C414.2,410.9 417.5,411.1 420.0,412.0 C422.5,412.9 426.7,415.6 428.0,416.3"/>
<path d="M416.9,421.9 C417.4,423.2 419.4,426.6 420.0,430.0 C420.6,433.4 420.5,440.2 420.6,442.2"/>
<path d="M405.0,418.0 C405.8,417.8 408.3,416.8 410.0,417.0 C411.7,417.2 413.5,417.7 415.0,419.0 C416.5,420.3 418.3,424.0 419.0,425.0"/>
<path d="M409.4,409.8 C410.0,408.4 411.6,404.7 413.1,401.5 C414.7,398.3 416.8,392.9 418.7,390.4 C420.6,387.9 421.5,387.9 424.3,386.7 C427.1,385.5 432.0,384.2 435.4,383.0 C438.8,381.8 441.8,380.2 444.6,379.3 C447.4,378.4 449.2,377.1 452.0,377.4 C454.8,377.7 458.5,379.2 461.3,381.1 C464.1,383.0 466.5,385.7 468.7,388.5 C470.9,391.3 473.1,395.9 474.3,397.8 C475.5,399.7 475.8,399.3 476.1,399.6"/>
<path d="M442.8,384.8 C443.3,384.1 444.5,381.5 446.0,380.5 C447.5,379.5 450.0,378.8 452.0,379.0 C454.0,379.2 457.0,381.5 458.0,382.0"/>
<path d="M441.0,385.5 C442.0,385.6 445.2,385.7 447.0,386.0 C448.8,386.3 451.2,387.2 452.0,387.5"/>
<path d="M402.0,447.8 C402.3,449.3 402.0,453.3 403.9,457.0 C405.8,460.7 409.4,466.3 413.1,470.0 C416.8,473.7 421.5,477.0 426.1,479.3 C430.7,481.6 436.3,483.6 440.9,483.9 C445.5,484.2 449.9,482.5 453.9,481.1 C457.9,479.7 462.5,477.8 465.0,475.6 C467.5,473.4 468.1,470.6 468.7,468.1 C469.3,465.6 469.9,462.6 468.7,460.7 C467.5,458.8 463.5,458.5 461.3,457.0 C459.1,455.5 457.2,454.3 455.7,451.5 C454.1,448.7 452.4,443.8 452.0,440.4 C451.6,437.0 452.4,434.5 453.0,431.1 C453.6,427.7 454.6,424.3 455.7,420.0 C456.8,415.7 458.8,407.7 459.4,405.2"/>
<path d="M472.4,438.5 C473.6,440.1 476.7,445.2 479.8,447.8 C482.9,450.4 487.5,453.4 490.9,454.3 C494.3,455.2 497.8,454.4 500.2,453.3 C502.6,452.2 504.2,448.7 505.0,447.8"/>
<path d="M472.4,436.7 C473.3,436.1 476.1,434.2 478.0,433.0 C479.9,431.8 482.0,430.5 483.5,429.3 C485.0,428.1 486.6,426.2 487.2,425.6"/>
<path d="M498.3,434.8 C498.9,436.3 501.4,441.2 502.0,444.0 C502.6,446.8 502.0,450.2 502.0,451.5"/>
<path d="M474.3,397.8 C475.6,397.8 479.2,398.0 482.0,398.0 C484.8,398.0 489.1,396.6 490.9,397.8 C492.7,399.0 492.5,404.0 492.8,405.2"/>
<path d="M492.8,375.6 C492.8,377.3 493.0,382.6 493.0,386.0 C493.0,389.4 492.8,394.3 492.8,396.0"/>
<path d="M490.0,453.8 C492.4,453.4 499.5,453.0 504.3,451.4 C509.1,449.8 514.6,447.1 518.6,444.3 C522.6,441.5 525.9,437.6 528.1,434.8 C530.3,432.0 530.5,427.6 531.7,427.6 C532.9,427.6 532.6,433.2 535.2,434.8 C537.8,436.4 542.7,437.5 547.1,437.1 C551.5,436.7 557.0,434.4 561.4,432.4 C565.8,430.4 569.7,428.4 573.3,425.2 C576.9,422.0 580.7,416.9 582.9,413.3 C585.1,409.7 585.6,407.0 586.4,403.8 C587.2,400.6 587.0,396.3 587.6,394.3 C588.2,392.3 587.6,392.7 590.0,391.9 C592.4,391.1 599.9,390.1 601.9,389.7"/>
<path d="M594.8,415.7 C596.0,416.5 598.3,419.3 601.9,420.5 C605.5,421.7 611.0,423.3 616.2,422.9 C621.4,422.5 628.1,420.1 632.9,418.1 C637.7,416.1 642.4,414.2 644.8,411.0 C647.2,407.8 646.9,402.2 647.1,399.0 C647.3,395.8 647.2,394.3 646.0,391.9 C644.8,389.5 640.6,386.8 640.0,384.8 C639.4,382.8 641.4,382.1 642.4,380.0 C643.4,377.9 645.6,373.7 646.3,372.4"/>
<path d="M478.9,363.7 C479.1,362.5 477.7,358.1 480.4,356.4 C483.1,354.7 490.0,354.7 494.9,353.5 C499.8,352.3 503.7,350.4 509.5,349.1 C515.3,347.8 524.0,345.4 529.8,345.6 C535.6,345.9 540.0,348.3 544.4,350.6 C548.8,352.9 552.6,356.4 556.0,359.3 C559.4,362.2 563.3,366.6 564.8,368.0"/>
<path d="M564.8,368.0 C565.3,365.3 565.8,357.1 567.7,352.0 C569.6,346.9 573.0,340.9 576.4,337.5 C579.8,334.1 583.6,333.3 588.0,331.6 C592.4,329.9 598.2,327.5 602.6,327.3 C607.0,327.1 610.8,328.5 614.2,330.2 C617.6,331.9 620.6,335.6 623.0,337.5 C625.4,339.4 627.8,341.1 628.8,341.8"/>
<path d="M628.8,341.8 C630.2,340.8 634.6,336.7 637.5,336.0 C640.4,335.3 643.9,336.1 646.3,337.5 C648.7,338.9 650.5,341.3 652.0,344.7 C653.5,348.1 654.5,353.2 655.0,357.8 C655.5,362.4 655.8,368.7 655.0,372.4 C654.2,376.1 650.8,378.7 650.0,380.0"/>
<path d="M625.0,336.0 C626.3,337.0 630.5,339.3 633.0,342.0 C635.5,344.7 638.8,350.3 640.0,352.0"/>
<path d="M646.3,372.4 C647.2,373.0 649.7,375.2 652.0,376.0 C654.3,376.8 658.7,376.8 660.0,377.0"/>
<path d="M531.9,392 V427" stroke-dasharray="4,3"/>
<path d="M461.3,437.6 H472.4" stroke-dasharray="3,2"/>
<path d="M499.5,432 V450 M504.3,434 V451 M509,433 V449 M513.8,432 V447 M556,418 V432 M561,416 V431 M566,414 V429 M571,416 V426" stroke-width="1.1"/>
<path d="M403,446 L410,444 L413.5,459 L407,456 Z" fill="#000" stroke-width="1"/>
</g>
<g fill="none" stroke="#000">
<path d="M356.8,100 A36.7,17 0 0 1 430.2,100 L430.2,122.5 A36.7,16.5 0 0 1 356.8,122.5 Z" fill="#000" stroke="none"/>
<ellipse cx="393.5" cy="100.8" rx="34.5" ry="15.6" fill="#fff" stroke="none"/>
<ellipse cx="393.5" cy="101.6" rx="32.5" ry="13.6" stroke-width="2.0"/>
<ellipse cx="393.5" cy="102" rx="29.2" ry="10.3" stroke-width="2.0"/>
<ellipse cx="393.5" cy="102.3" rx="25.6" ry="6.9" stroke-width="2.0"/>
<ellipse cx="393.5" cy="102.5" rx="22.1" ry="3.1" stroke-width="2.0"/>
<path d="M393.5,106.5 V116" stroke="#fff" stroke-width="2"/>
<path d="M384.5,109.3 H402.5 M393.5,109.3 V114" stroke-width="1.6"/>
<path d="M358.4,103.6 A35.1,16.5 0 0 0 428.6,103.6" stroke="#fff" stroke-width="1.7"/>
<path d="M358.4,108.2 A35.1,16.5 0 0 0 428.6,108.2" stroke="#fff" stroke-width="1.7"/>
<path d="M358.4,112.6 A35.1,16.5 0 0 0 428.6,112.6" stroke="#fff" stroke-width="1.7"/>
<path d="M358.4,116.8 A35.1,16.5 0 0 0 428.6,116.8" stroke="#fff" stroke-width="1.7"/>
<path d="M437.9,100 A36.8,17 0 0 1 511.5,100 L511.5,122.5 A36.8,16.5 0 0 1 437.9,122.5 Z" fill="#000" stroke="none"/>
<ellipse cx="474.7" cy="100.8" rx="34.6" ry="15.6" fill="#fff" stroke="none"/>
<ellipse cx="474.7" cy="101.6" rx="32.6" ry="13.6" stroke-width="2.0"/>
<ellipse cx="474.7" cy="102" rx="29.2" ry="10.3" stroke-width="2.0"/>
<ellipse cx="474.7" cy="102.3" rx="25.7" ry="6.9" stroke-width="2.0"/>
<ellipse cx="474.7" cy="102.5" rx="22.2" ry="3.1" stroke-width="2.0"/>
<path d="M474.7,106.5 V116" stroke="#fff" stroke-width="2"/>
<path d="M465.6,109.3 H483.8 M474.7,109.3 V114" stroke-width="1.6"/>
<path d="M439.5,103.6 A35.2,16.5 0 0 0 509.9,103.6" stroke="#fff" stroke-width="1.7"/>
<path d="M439.5,108.2 A35.2,16.5 0 0 0 509.9,108.2" stroke="#fff" stroke-width="1.7"/>
<path d="M439.5,112.6 A35.2,16.5 0 0 0 509.9,112.6" stroke="#fff" stroke-width="1.7"/>
<path d="M439.5,116.8 A35.2,16.5 0 0 0 509.9,116.8" stroke="#fff" stroke-width="1.7"/>
<path d="M521.2,100 A37.5,17 0 0 1 596.2,100 L596.2,122.5 A37.5,16.5 0 0 1 521.2,122.5 Z" fill="#000" stroke="none"/>
<ellipse cx="558.7" cy="100.8" rx="35.3" ry="15.6" fill="#fff" stroke="none"/>
<ellipse cx="558.7" cy="101.6" rx="33.2" ry="13.6" stroke-width="2.0"/>
<ellipse cx="558.7" cy="102" rx="29.8" ry="10.3" stroke-width="2.0"/>
<ellipse cx="558.7" cy="102.3" rx="26.2" ry="6.9" stroke-width="2.0"/>
<ellipse cx="558.7" cy="102.5" rx="22.6" ry="3.1" stroke-width="2.0"/>
<path d="M558.7,106.5 V116" stroke="#fff" stroke-width="2"/>
<path d="M549.5,109.3 H567.9 M558.7,109.3 V114" stroke-width="1.6"/>
<path d="M522.8,103.6 A35.9,16.5 0 0 0 594.6,103.6" stroke="#fff" stroke-width="1.7"/>
<path d="M522.8,108.2 A35.9,16.5 0 0 0 594.6,108.2" stroke="#fff" stroke-width="1.7"/>
<path d="M522.8,112.6 A35.9,16.5 0 0 0 594.6,112.6" stroke="#fff" stroke-width="1.7"/>
<path d="M522.8,116.8 A35.9,16.5 0 0 0 594.6,116.8" stroke="#fff" stroke-width="1.7"/>
<path d="M605.5,100 A38.5,17 0 0 1 682.5,100 L682.5,122.5 A38.5,16.5 0 0 1 605.5,122.5 Z" fill="#000" stroke="none"/>
<ellipse cx="644" cy="100.8" rx="36.3" ry="15.6" fill="#fff" stroke="none"/>
<ellipse cx="644" cy="101.6" rx="34.1" ry="13.6" stroke-width="2.0"/>
<ellipse cx="644" cy="102" rx="30.6" ry="10.3" stroke-width="2.0"/>
<ellipse cx="644" cy="102.3" rx="26.9" ry="6.9" stroke-width="2.0"/>
<ellipse cx="644" cy="102.5" rx="23.2" ry="3.1" stroke-width="2.0"/>
<path d="M644,106.5 V116" stroke="#fff" stroke-width="2"/>
<path d="M634.5,109.3 H653.5 M644,109.3 V114" stroke-width="1.6"/>
<path d="M607.1,103.6 A36.9,16.5 0 0 0 680.9,103.6" stroke="#fff" stroke-width="1.7"/>
<path d="M607.1,108.2 A36.9,16.5 0 0 0 680.9,108.2" stroke="#fff" stroke-width="1.7"/>
<path d="M607.1,112.6 A36.9,16.5 0 0 0 680.9,112.6" stroke="#fff" stroke-width="1.7"/>
<path d="M607.1,116.8 A36.9,16.5 0 0 0 680.9,116.8" stroke="#fff" stroke-width="1.7"/>
</g>
<path d="M516.5,62 V73" stroke="#000" stroke-width="1.5"/>
</svg></body></html>
